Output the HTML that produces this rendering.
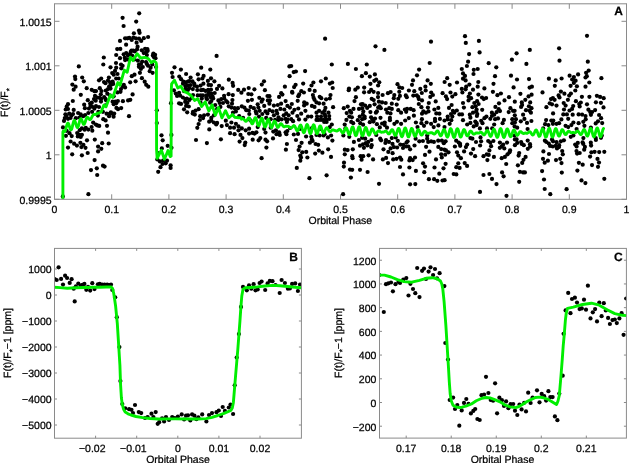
<!DOCTYPE html>
<html><head><meta charset="utf-8"><title>Phase curve</title>
<style>html,body{margin:0;padding:0;background:#fff;width:630px;height:463px;overflow:hidden}svg{display:block;will-change:transform}text{stroke:#000;stroke-width:0.25px;paint-order:stroke}text{font-family:"Liberation Sans",sans-serif;text-rendering:geometricPrecision}</style>
</head><body>
<svg width="630" height="463" viewBox="0 0 630 463" font-family="Liberation Sans, sans-serif" fill="#000"><defs><clipPath id="ca"><rect x="54.5" y="3.8" width="572.0" height="195.5"/></clipPath><clipPath id="cb"><rect x="54.5" y="248.4" width="246.89999999999998" height="189.79999999999998"/></clipPath><clipPath id="cc"><rect x="379.5" y="248.4" width="246.89999999999998" height="189.70000000000002"/></clipPath></defs>
<g clip-path="url(#ca)">
<circle cx="122.6" cy="17.8" r="2.1"/>
<circle cx="123.6" cy="26.0" r="2.1"/>
<circle cx="133.9" cy="33.3" r="2.1"/>
<circle cx="125.1" cy="38.3" r="2.1"/>
<circle cx="127.4" cy="38.3" r="2.1"/>
<circle cx="131.7" cy="40.0" r="2.1"/>
<circle cx="120.0" cy="40.9" r="2.1"/>
<circle cx="126.1" cy="44.7" r="2.1"/>
<circle cx="117.2" cy="49.1" r="2.1"/>
<circle cx="120.3" cy="48.9" r="2.1"/>
<circle cx="131.5" cy="50.6" r="2.1"/>
<circle cx="78.8" cy="66.4" r="2.1"/>
<circle cx="75.0" cy="76.6" r="2.1"/>
<circle cx="75.3" cy="79.1" r="2.1"/>
<circle cx="82.2" cy="77.5" r="2.1"/>
<circle cx="83.8" cy="81.3" r="2.1"/>
<circle cx="72.4" cy="84.6" r="2.1"/>
<circle cx="75.6" cy="86.7" r="2.1"/>
<circle cx="73.7" cy="89.7" r="2.1"/>
<circle cx="80.8" cy="94.8" r="2.1"/>
<circle cx="86.7" cy="88.2" r="2.1"/>
<circle cx="91.7" cy="89.8" r="2.1"/>
<circle cx="94.4" cy="91.2" r="2.1"/>
<circle cx="96.0" cy="91.1" r="2.1"/>
<circle cx="95.0" cy="95.9" r="2.1"/>
<circle cx="99.0" cy="80.3" r="2.1"/>
<circle cx="101.2" cy="78.5" r="2.1"/>
<circle cx="104.0" cy="82.0" r="2.1"/>
<circle cx="103.8" cy="57.5" r="2.1"/>
<circle cx="103.3" cy="64.5" r="2.1"/>
<circle cx="99.8" cy="88.2" r="2.1"/>
<circle cx="101.5" cy="91.1" r="2.1"/>
<circle cx="105.8" cy="90.5" r="2.1"/>
<circle cx="108.9" cy="77.5" r="2.1"/>
<circle cx="110.2" cy="82.4" r="2.1"/>
<circle cx="112.7" cy="81.7" r="2.1"/>
<circle cx="109.2" cy="86.3" r="2.1"/>
<circle cx="110.5" cy="88.6" r="2.1"/>
<circle cx="110.5" cy="67.3" r="2.1"/>
<circle cx="112.2" cy="73.1" r="2.1"/>
<circle cx="115.0" cy="70.9" r="2.1"/>
<circle cx="116.2" cy="67.7" r="2.1"/>
<circle cx="116.0" cy="63.0" r="2.1"/>
<circle cx="117.5" cy="74.0" r="2.1"/>
<circle cx="118.8" cy="78.5" r="2.1"/>
<circle cx="121.0" cy="64.5" r="2.1"/>
<circle cx="122.6" cy="65.8" r="2.1"/>
<circle cx="120.0" cy="58.2" r="2.1"/>
<circle cx="116.2" cy="55.0" r="2.1"/>
<circle cx="123.7" cy="54.3" r="2.1"/>
<circle cx="126.2" cy="53.0" r="2.1"/>
<circle cx="130.8" cy="51.8" r="2.1"/>
<circle cx="132.1" cy="55.5" r="2.1"/>
<circle cx="125.1" cy="60.1" r="2.1"/>
<circle cx="127.7" cy="59.4" r="2.1"/>
<circle cx="121.3" cy="68.3" r="2.1"/>
<circle cx="123.8" cy="84.8" r="2.1"/>
<circle cx="125.1" cy="87.4" r="2.1"/>
<circle cx="130.2" cy="82.3" r="2.1"/>
<circle cx="131.8" cy="76.2" r="2.1"/>
<circle cx="132.6" cy="94.4" r="2.1"/>
<circle cx="113.7" cy="96.3" r="2.1"/>
<circle cx="117.5" cy="92.4" r="2.1"/>
<circle cx="120.5" cy="91.8" r="2.1"/>
<circle cx="100.8" cy="94.3" r="2.1"/>
<circle cx="104.2" cy="97.0" r="2.1"/>
<circle cx="113.7" cy="74.7" r="2.1"/>
<circle cx="116.2" cy="78.5" r="2.1"/>
<circle cx="111.1" cy="84.8" r="2.1"/>
<circle cx="107.3" cy="93.7" r="2.1"/>
<circle cx="72.8" cy="101.0" r="2.1"/>
<circle cx="68.0" cy="104.2" r="2.1"/>
<circle cx="66.7" cy="106.7" r="2.1"/>
<circle cx="65.7" cy="109.5" r="2.1"/>
<circle cx="68.0" cy="109.0" r="2.1"/>
<circle cx="73.7" cy="109.9" r="2.1"/>
<circle cx="65.4" cy="114.3" r="2.1"/>
<circle cx="69.2" cy="113.7" r="2.1"/>
<circle cx="71.5" cy="115.6" r="2.1"/>
<circle cx="64.8" cy="118.1" r="2.1"/>
<circle cx="64.0" cy="120.9" r="2.1"/>
<circle cx="68.0" cy="118.8" r="2.1"/>
<circle cx="78.1" cy="113.0" r="2.1"/>
<circle cx="80.7" cy="114.3" r="2.1"/>
<circle cx="83.2" cy="116.2" r="2.1"/>
<circle cx="85.1" cy="115.0" r="2.1"/>
<circle cx="79.4" cy="117.5" r="2.1"/>
<circle cx="75.8" cy="118.2" r="2.1"/>
<circle cx="88.3" cy="113.0" r="2.1"/>
<circle cx="84.2" cy="104.7" r="2.1"/>
<circle cx="84.9" cy="108.2" r="2.1"/>
<circle cx="87.8" cy="100.2" r="2.1"/>
<circle cx="90.2" cy="103.5" r="2.1"/>
<circle cx="92.1" cy="106.7" r="2.1"/>
<circle cx="88.9" cy="108.6" r="2.1"/>
<circle cx="94.0" cy="99.1" r="2.1"/>
<circle cx="94.4" cy="108.6" r="2.1"/>
<circle cx="96.0" cy="106.2" r="2.1"/>
<circle cx="98.4" cy="111.8" r="2.1"/>
<circle cx="92.1" cy="111.8" r="2.1"/>
<circle cx="99.7" cy="97.8" r="2.1"/>
<circle cx="101.0" cy="101.6" r="2.1"/>
<circle cx="106.1" cy="100.3" r="2.1"/>
<circle cx="105.4" cy="105.4" r="2.1"/>
<circle cx="99.0" cy="107.0" r="2.1"/>
<circle cx="63.0" cy="127.4" r="2.1"/>
<circle cx="66.7" cy="130.8" r="2.1"/>
<circle cx="69.5" cy="133.2" r="2.1"/>
<circle cx="71.7" cy="136.1" r="2.1"/>
<circle cx="65.9" cy="135.8" r="2.1"/>
<circle cx="70.6" cy="141.5" r="2.1"/>
<circle cx="77.2" cy="133.1" r="2.1"/>
<circle cx="77.8" cy="136.4" r="2.1"/>
<circle cx="81.9" cy="134.8" r="2.1"/>
<circle cx="79.7" cy="130.2" r="2.1"/>
<circle cx="81.9" cy="128.3" r="2.1"/>
<circle cx="85.8" cy="127.8" r="2.1"/>
<circle cx="88.3" cy="129.6" r="2.1"/>
<circle cx="91.6" cy="127.0" r="2.1"/>
<circle cx="92.3" cy="130.7" r="2.1"/>
<circle cx="93.2" cy="122.6" r="2.1"/>
<circle cx="97.3" cy="125.4" r="2.1"/>
<circle cx="95.9" cy="124.5" r="2.1"/>
<circle cx="94.8" cy="139.6" r="2.1"/>
<circle cx="87.0" cy="140.3" r="2.1"/>
<circle cx="80.4" cy="142.8" r="2.1"/>
<circle cx="74.1" cy="143.7" r="2.1"/>
<circle cx="103.3" cy="119.2" r="2.1"/>
<circle cx="105.6" cy="120.4" r="2.1"/>
<circle cx="102.9" cy="111.8" r="2.1"/>
<circle cx="106.6" cy="113.7" r="2.1"/>
<circle cx="109.9" cy="113.7" r="2.1"/>
<circle cx="112.4" cy="113.7" r="2.1"/>
<circle cx="113.6" cy="116.7" r="2.1"/>
<circle cx="109.1" cy="116.2" r="2.1"/>
<circle cx="107.0" cy="125.8" r="2.1"/>
<circle cx="108.0" cy="132.7" r="2.1"/>
<circle cx="102.2" cy="143.2" r="2.1"/>
<circle cx="108.7" cy="143.5" r="2.1"/>
<circle cx="112.6" cy="101.7" r="2.1"/>
<circle cx="115.4" cy="101.5" r="2.1"/>
<circle cx="116.2" cy="103.3" r="2.1"/>
<circle cx="113.7" cy="104.2" r="2.1"/>
<circle cx="118.0" cy="109.2" r="2.1"/>
<circle cx="121.2" cy="108.1" r="2.1"/>
<circle cx="122.9" cy="101.2" r="2.1"/>
<circle cx="128.1" cy="100.4" r="2.1"/>
<circle cx="130.3" cy="99.8" r="2.1"/>
<circle cx="129.0" cy="116.2" r="2.1"/>
<circle cx="109.9" cy="95.3" r="2.1"/>
<circle cx="76.9" cy="145.6" r="2.1"/>
<circle cx="83.4" cy="144.8" r="2.1"/>
<circle cx="81.4" cy="147.1" r="2.1"/>
<circle cx="85.5" cy="147.8" r="2.1"/>
<circle cx="68.0" cy="147.6" r="2.1"/>
<circle cx="72.2" cy="154.3" r="2.1"/>
<circle cx="81.9" cy="155.3" r="2.1"/>
<circle cx="87.7" cy="153.0" r="2.1"/>
<circle cx="98.1" cy="146.6" r="2.1"/>
<circle cx="101.3" cy="148.8" r="2.1"/>
<circle cx="98.1" cy="151.4" r="2.1"/>
<circle cx="94.6" cy="160.1" r="2.1"/>
<circle cx="103.0" cy="165.7" r="2.1"/>
<circle cx="104.6" cy="166.6" r="2.1"/>
<circle cx="96.8" cy="168.3" r="2.1"/>
<circle cx="91.0" cy="170.1" r="2.1"/>
<circle cx="97.2" cy="175.0" r="2.1"/>
<circle cx="88.4" cy="194.2" r="2.1"/>
<circle cx="62.8" cy="196.4" r="2.1"/>
<circle cx="139.2" cy="13.3" r="2.1"/>
<circle cx="136.2" cy="21.6" r="2.1"/>
<circle cx="139.0" cy="30.5" r="2.1"/>
<circle cx="139.6" cy="32.8" r="2.1"/>
<circle cx="133.3" cy="37.5" r="2.1"/>
<circle cx="135.8" cy="38.3" r="2.1"/>
<circle cx="139.0" cy="38.7" r="2.1"/>
<circle cx="143.8" cy="38.2" r="2.1"/>
<circle cx="148.1" cy="37.0" r="2.1"/>
<circle cx="141.2" cy="40.9" r="2.1"/>
<circle cx="136.6" cy="42.7" r="2.1"/>
<circle cx="137.6" cy="46.7" r="2.1"/>
<circle cx="145.1" cy="48.8" r="2.1"/>
<circle cx="147.4" cy="49.1" r="2.1"/>
<circle cx="133.3" cy="50.5" r="2.1"/>
<circle cx="137.1" cy="49.3" r="2.1"/>
<circle cx="141.8" cy="50.3" r="2.1"/>
<circle cx="147.7" cy="50.8" r="2.1"/>
<circle cx="143.8" cy="53.1" r="2.1"/>
<circle cx="153.4" cy="53.5" r="2.1"/>
<circle cx="155.1" cy="54.8" r="2.1"/>
<circle cx="153.8" cy="57.1" r="2.1"/>
<circle cx="155.5" cy="58.2" r="2.1"/>
<circle cx="134.5" cy="59.4" r="2.1"/>
<circle cx="137.9" cy="60.7" r="2.1"/>
<circle cx="142.2" cy="61.6" r="2.1"/>
<circle cx="146.0" cy="62.0" r="2.1"/>
<circle cx="148.0" cy="65.7" r="2.1"/>
<circle cx="138.9" cy="66.8" r="2.1"/>
<circle cx="142.8" cy="67.0" r="2.1"/>
<circle cx="150.6" cy="67.7" r="2.1"/>
<circle cx="152.3" cy="64.5" r="2.1"/>
<circle cx="156.1" cy="67.0" r="2.1"/>
<circle cx="140.9" cy="69.0" r="2.1"/>
<circle cx="149.7" cy="71.2" r="2.1"/>
<circle cx="152.6" cy="72.8" r="2.1"/>
<circle cx="139.9" cy="72.8" r="2.1"/>
<circle cx="134.5" cy="74.7" r="2.1"/>
<circle cx="141.9" cy="78.2" r="2.1"/>
<circle cx="135.6" cy="81.3" r="2.1"/>
<circle cx="144.7" cy="81.7" r="2.1"/>
<circle cx="146.2" cy="84.8" r="2.1"/>
<circle cx="148.3" cy="86.7" r="2.1"/>
<circle cx="174.5" cy="67.3" r="2.1"/>
<circle cx="180.9" cy="69.6" r="2.1"/>
<circle cx="172.0" cy="72.8" r="2.1"/>
<circle cx="186.1" cy="74.0" r="2.1"/>
<circle cx="201.2" cy="67.7" r="2.1"/>
<circle cx="210.3" cy="69.6" r="2.1"/>
<circle cx="197.9" cy="74.3" r="2.1"/>
<circle cx="203.6" cy="75.9" r="2.1"/>
<circle cx="211.0" cy="78.3" r="2.1"/>
<circle cx="172.6" cy="77.0" r="2.1"/>
<circle cx="179.3" cy="76.6" r="2.1"/>
<circle cx="181.1" cy="79.2" r="2.1"/>
<circle cx="190.6" cy="77.5" r="2.1"/>
<circle cx="183.4" cy="81.7" r="2.1"/>
<circle cx="187.9" cy="81.7" r="2.1"/>
<circle cx="192.5" cy="81.4" r="2.1"/>
<circle cx="198.6" cy="79.3" r="2.1"/>
<circle cx="202.4" cy="78.5" r="2.1"/>
<circle cx="207.9" cy="80.9" r="2.1"/>
<circle cx="194.2" cy="83.6" r="2.1"/>
<circle cx="197.0" cy="86.5" r="2.1"/>
<circle cx="200.6" cy="85.6" r="2.1"/>
<circle cx="203.4" cy="83.7" r="2.1"/>
<circle cx="208.6" cy="84.9" r="2.1"/>
<circle cx="185.3" cy="86.1" r="2.1"/>
<circle cx="189.2" cy="88.2" r="2.1"/>
<circle cx="192.8" cy="89.1" r="2.1"/>
<circle cx="184.1" cy="91.2" r="2.1"/>
<circle cx="187.9" cy="89.9" r="2.1"/>
<circle cx="197.3" cy="90.1" r="2.1"/>
<circle cx="203.1" cy="89.9" r="2.1"/>
<circle cx="208.2" cy="89.9" r="2.1"/>
<circle cx="173.9" cy="90.3" r="2.1"/>
<circle cx="175.8" cy="93.6" r="2.1"/>
<circle cx="180.1" cy="95.6" r="2.1"/>
<circle cx="193.0" cy="95.0" r="2.1"/>
<circle cx="197.7" cy="95.4" r="2.1"/>
<circle cx="202.9" cy="95.4" r="2.1"/>
<circle cx="208.2" cy="95.0" r="2.1"/>
<circle cx="211.3" cy="93.5" r="2.1"/>
<circle cx="156.8" cy="110.3" r="2.1"/>
<circle cx="156.8" cy="123.0" r="2.1"/>
<circle cx="171.0" cy="103.2" r="2.1"/>
<circle cx="171.4" cy="134.9" r="2.1"/>
<circle cx="161.5" cy="135.3" r="2.1"/>
<circle cx="162.7" cy="140.3" r="2.1"/>
<circle cx="177.1" cy="96.0" r="2.1"/>
<circle cx="179.1" cy="103.3" r="2.1"/>
<circle cx="182.9" cy="97.5" r="2.1"/>
<circle cx="185.3" cy="99.1" r="2.1"/>
<circle cx="187.4" cy="102.8" r="2.1"/>
<circle cx="186.1" cy="105.9" r="2.1"/>
<circle cx="184.0" cy="109.3" r="2.1"/>
<circle cx="187.2" cy="112.3" r="2.1"/>
<circle cx="191.7" cy="97.8" r="2.1"/>
<circle cx="206.3" cy="97.8" r="2.1"/>
<circle cx="210.7" cy="97.2" r="2.1"/>
<circle cx="210.1" cy="102.7" r="2.1"/>
<circle cx="193.0" cy="111.8" r="2.1"/>
<circle cx="195.6" cy="110.6" r="2.1"/>
<circle cx="198.6" cy="109.2" r="2.1"/>
<circle cx="194.8" cy="114.6" r="2.1"/>
<circle cx="200.2" cy="116.2" r="2.1"/>
<circle cx="204.1" cy="115.3" r="2.1"/>
<circle cx="207.9" cy="114.6" r="2.1"/>
<circle cx="203.1" cy="118.1" r="2.1"/>
<circle cx="199.9" cy="120.0" r="2.1"/>
<circle cx="209.2" cy="121.7" r="2.1"/>
<circle cx="198.6" cy="124.1" r="2.1"/>
<circle cx="197.3" cy="127.8" r="2.1"/>
<circle cx="209.3" cy="129.4" r="2.1"/>
<circle cx="196.0" cy="140.0" r="2.1"/>
<circle cx="206.9" cy="143.1" r="2.1"/>
<circle cx="161.8" cy="148.4" r="2.1"/>
<circle cx="167.7" cy="145.8" r="2.1"/>
<circle cx="171.5" cy="147.8" r="2.1"/>
<circle cx="157.9" cy="153.0" r="2.1"/>
<circle cx="157.3" cy="159.4" r="2.1"/>
<circle cx="159.9" cy="161.4" r="2.1"/>
<circle cx="163.1" cy="160.7" r="2.1"/>
<circle cx="165.7" cy="163.3" r="2.1"/>
<circle cx="167.0" cy="160.7" r="2.1"/>
<circle cx="160.5" cy="167.2" r="2.1"/>
<circle cx="170.6" cy="165.3" r="2.1"/>
<circle cx="170.6" cy="167.9" r="2.1"/>
<circle cx="158.2" cy="171.8" r="2.1"/>
<circle cx="162.5" cy="164.0" r="2.1"/>
<circle cx="216.6" cy="55.9" r="2.1"/>
<circle cx="214.4" cy="81.3" r="2.1"/>
<circle cx="211.0" cy="85.1" r="2.1"/>
<circle cx="219.1" cy="85.8" r="2.1"/>
<circle cx="217.0" cy="88.9" r="2.1"/>
<circle cx="222.4" cy="88.4" r="2.1"/>
<circle cx="211.0" cy="89.7" r="2.1"/>
<circle cx="214.7" cy="93.0" r="2.1"/>
<circle cx="212.5" cy="96.3" r="2.1"/>
<circle cx="228.8" cy="79.7" r="2.1"/>
<circle cx="232.6" cy="82.9" r="2.1"/>
<circle cx="233.1" cy="85.8" r="2.1"/>
<circle cx="238.2" cy="89.9" r="2.1"/>
<circle cx="244.0" cy="89.7" r="2.1"/>
<circle cx="241.4" cy="92.7" r="2.1"/>
<circle cx="248.7" cy="88.0" r="2.1"/>
<circle cx="254.4" cy="89.3" r="2.1"/>
<circle cx="248.3" cy="94.0" r="2.1"/>
<circle cx="251.4" cy="94.3" r="2.1"/>
<circle cx="228.6" cy="94.2" r="2.1"/>
<circle cx="232.8" cy="95.1" r="2.1"/>
<circle cx="224.1" cy="95.8" r="2.1"/>
<circle cx="264.0" cy="81.3" r="2.1"/>
<circle cx="261.8" cy="84.6" r="2.1"/>
<circle cx="264.9" cy="90.2" r="2.1"/>
<circle cx="259.3" cy="97.8" r="2.1"/>
<circle cx="267.5" cy="96.0" r="2.1"/>
<circle cx="284.9" cy="86.7" r="2.1"/>
<circle cx="281.2" cy="93.2" r="2.1"/>
<circle cx="279.1" cy="96.9" r="2.1"/>
<circle cx="289.6" cy="76.2" r="2.1"/>
<circle cx="289.4" cy="66.4" r="2.1"/>
<circle cx="239.6" cy="141.6" r="2.1"/>
<circle cx="245.3" cy="142.6" r="2.1"/>
<circle cx="244.7" cy="145.1" r="2.1"/>
<circle cx="252.7" cy="139.7" r="2.1"/>
<circle cx="258.6" cy="140.3" r="2.1"/>
<circle cx="267.1" cy="141.3" r="2.1"/>
<circle cx="266.4" cy="147.6" r="2.1"/>
<circle cx="261.6" cy="158.2" r="2.1"/>
<circle cx="286.9" cy="144.0" r="2.1"/>
<circle cx="285.9" cy="149.7" r="2.1"/>
<circle cx="220.9" cy="139.3" r="2.1"/>
<circle cx="325.1" cy="38.7" r="2.1"/>
<circle cx="291.2" cy="66.0" r="2.1"/>
<circle cx="293.7" cy="72.1" r="2.1"/>
<circle cx="295.9" cy="71.5" r="2.1"/>
<circle cx="305.1" cy="71.1" r="2.1"/>
<circle cx="295.6" cy="84.8" r="2.1"/>
<circle cx="294.1" cy="87.1" r="2.1"/>
<circle cx="292.1" cy="91.9" r="2.1"/>
<circle cx="292.4" cy="92.7" r="2.1"/>
<circle cx="303.2" cy="83.6" r="2.1"/>
<circle cx="301.3" cy="91.2" r="2.1"/>
<circle cx="303.9" cy="92.5" r="2.1"/>
<circle cx="299.2" cy="94.4" r="2.1"/>
<circle cx="313.4" cy="82.5" r="2.1"/>
<circle cx="311.5" cy="85.5" r="2.1"/>
<circle cx="309.6" cy="89.9" r="2.1"/>
<circle cx="314.7" cy="90.9" r="2.1"/>
<circle cx="312.9" cy="95.1" r="2.1"/>
<circle cx="321.0" cy="81.3" r="2.1"/>
<circle cx="325.8" cy="78.5" r="2.1"/>
<circle cx="329.9" cy="83.6" r="2.1"/>
<circle cx="332.2" cy="82.5" r="2.1"/>
<circle cx="332.7" cy="88.0" r="2.1"/>
<circle cx="330.5" cy="95.1" r="2.1"/>
<circle cx="319.7" cy="96.8" r="2.1"/>
<circle cx="331.8" cy="64.5" r="2.1"/>
<circle cx="347.9" cy="63.9" r="2.1"/>
<circle cx="355.9" cy="69.0" r="2.1"/>
<circle cx="366.8" cy="64.5" r="2.1"/>
<circle cx="365.9" cy="73.2" r="2.1"/>
<circle cx="361.9" cy="76.2" r="2.1"/>
<circle cx="349.0" cy="88.6" r="2.1"/>
<circle cx="348.7" cy="90.2" r="2.1"/>
<circle cx="355.3" cy="89.7" r="2.1"/>
<circle cx="357.8" cy="87.6" r="2.1"/>
<circle cx="364.2" cy="87.6" r="2.1"/>
<circle cx="364.1" cy="92.3" r="2.1"/>
<circle cx="355.9" cy="97.2" r="2.1"/>
<circle cx="296.0" cy="140.0" r="2.1"/>
<circle cx="301.6" cy="142.8" r="2.1"/>
<circle cx="309.9" cy="142.7" r="2.1"/>
<circle cx="312.6" cy="141.0" r="2.1"/>
<circle cx="315.6" cy="144.0" r="2.1"/>
<circle cx="318.2" cy="144.8" r="2.1"/>
<circle cx="332.4" cy="140.6" r="2.1"/>
<circle cx="299.6" cy="146.5" r="2.1"/>
<circle cx="298.6" cy="150.1" r="2.1"/>
<circle cx="302.3" cy="152.3" r="2.1"/>
<circle cx="306.2" cy="151.9" r="2.1"/>
<circle cx="300.3" cy="155.6" r="2.1"/>
<circle cx="301.0" cy="157.5" r="2.1"/>
<circle cx="300.3" cy="160.7" r="2.1"/>
<circle cx="307.4" cy="157.5" r="2.1"/>
<circle cx="315.2" cy="153.6" r="2.1"/>
<circle cx="318.9" cy="150.6" r="2.1"/>
<circle cx="322.4" cy="152.7" r="2.1"/>
<circle cx="328.2" cy="149.3" r="2.1"/>
<circle cx="331.0" cy="156.9" r="2.1"/>
<circle cx="296.8" cy="167.9" r="2.1"/>
<circle cx="309.4" cy="178.2" r="2.1"/>
<circle cx="326.6" cy="175.3" r="2.1"/>
<circle cx="344.8" cy="149.7" r="2.1"/>
<circle cx="347.6" cy="150.1" r="2.1"/>
<circle cx="352.8" cy="149.3" r="2.1"/>
<circle cx="344.8" cy="154.3" r="2.1"/>
<circle cx="352.2" cy="156.2" r="2.1"/>
<circle cx="352.6" cy="158.2" r="2.1"/>
<circle cx="344.0" cy="162.7" r="2.1"/>
<circle cx="343.8" cy="166.6" r="2.1"/>
<circle cx="350.0" cy="169.6" r="2.1"/>
<circle cx="352.2" cy="169.8" r="2.1"/>
<circle cx="360.0" cy="169.8" r="2.1"/>
<circle cx="367.6" cy="172.0" r="2.1"/>
<circle cx="350.9" cy="177.6" r="2.1"/>
<circle cx="353.9" cy="141.9" r="2.1"/>
<circle cx="358.9" cy="140.0" r="2.1"/>
<circle cx="360.0" cy="145.7" r="2.1"/>
<circle cx="363.0" cy="144.3" r="2.1"/>
<circle cx="365.8" cy="143.2" r="2.1"/>
<circle cx="363.9" cy="147.8" r="2.1"/>
<circle cx="367.3" cy="145.4" r="2.1"/>
<circle cx="360.6" cy="156.2" r="2.1"/>
<circle cx="363.2" cy="156.2" r="2.1"/>
<circle cx="361.6" cy="159.7" r="2.1"/>
<circle cx="343.1" cy="194.2" r="2.1"/>
<circle cx="375.5" cy="46.3" r="2.1"/>
<circle cx="384.4" cy="49.9" r="2.1"/>
<circle cx="431.0" cy="41.7" r="2.1"/>
<circle cx="369.8" cy="76.6" r="2.1"/>
<circle cx="374.9" cy="74.4" r="2.1"/>
<circle cx="374.3" cy="80.8" r="2.1"/>
<circle cx="376.2" cy="79.7" r="2.1"/>
<circle cx="379.3" cy="82.3" r="2.1"/>
<circle cx="378.1" cy="85.5" r="2.1"/>
<circle cx="370.4" cy="83.8" r="2.1"/>
<circle cx="371.1" cy="89.9" r="2.1"/>
<circle cx="373.6" cy="91.8" r="2.1"/>
<circle cx="369.1" cy="92.0" r="2.1"/>
<circle cx="378.1" cy="93.0" r="2.1"/>
<circle cx="378.0" cy="97.1" r="2.1"/>
<circle cx="382.6" cy="95.0" r="2.1"/>
<circle cx="387.9" cy="93.2" r="2.1"/>
<circle cx="390.6" cy="92.0" r="2.1"/>
<circle cx="394.3" cy="95.1" r="2.1"/>
<circle cx="397.5" cy="84.2" r="2.1"/>
<circle cx="399.3" cy="87.4" r="2.1"/>
<circle cx="402.2" cy="88.0" r="2.1"/>
<circle cx="399.3" cy="91.8" r="2.1"/>
<circle cx="399.9" cy="95.9" r="2.1"/>
<circle cx="405.8" cy="95.4" r="2.1"/>
<circle cx="408.9" cy="90.5" r="2.1"/>
<circle cx="412.0" cy="84.8" r="2.1"/>
<circle cx="413.0" cy="80.4" r="2.1"/>
<circle cx="417.0" cy="75.3" r="2.1"/>
<circle cx="419.1" cy="69.6" r="2.1"/>
<circle cx="429.7" cy="63.0" r="2.1"/>
<circle cx="414.3" cy="91.2" r="2.1"/>
<circle cx="413.3" cy="95.6" r="2.1"/>
<circle cx="416.8" cy="95.4" r="2.1"/>
<circle cx="420.3" cy="88.9" r="2.1"/>
<circle cx="421.8" cy="93.0" r="2.1"/>
<circle cx="425.4" cy="86.7" r="2.1"/>
<circle cx="425.7" cy="90.5" r="2.1"/>
<circle cx="427.6" cy="80.4" r="2.1"/>
<circle cx="430.8" cy="83.8" r="2.1"/>
<circle cx="431.2" cy="92.5" r="2.1"/>
<circle cx="432.9" cy="95.0" r="2.1"/>
<circle cx="430.3" cy="96.9" r="2.1"/>
<circle cx="442.6" cy="93.2" r="2.1"/>
<circle cx="444.6" cy="82.0" r="2.1"/>
<circle cx="368.2" cy="141.9" r="2.1"/>
<circle cx="371.4" cy="140.0" r="2.1"/>
<circle cx="371.2" cy="147.1" r="2.1"/>
<circle cx="381.1" cy="140.3" r="2.1"/>
<circle cx="385.4" cy="142.9" r="2.1"/>
<circle cx="389.0" cy="141.9" r="2.1"/>
<circle cx="392.5" cy="143.9" r="2.1"/>
<circle cx="390.6" cy="148.4" r="2.1"/>
<circle cx="393.9" cy="147.1" r="2.1"/>
<circle cx="397.1" cy="147.5" r="2.1"/>
<circle cx="383.5" cy="149.3" r="2.1"/>
<circle cx="388.3" cy="151.9" r="2.1"/>
<circle cx="392.6" cy="153.2" r="2.1"/>
<circle cx="397.8" cy="140.8" r="2.1"/>
<circle cx="403.4" cy="144.9" r="2.1"/>
<circle cx="403.0" cy="148.0" r="2.1"/>
<circle cx="406.2" cy="146.5" r="2.1"/>
<circle cx="410.1" cy="149.3" r="2.1"/>
<circle cx="407.6" cy="141.3" r="2.1"/>
<circle cx="414.5" cy="145.5" r="2.1"/>
<circle cx="419.3" cy="141.3" r="2.1"/>
<circle cx="422.9" cy="141.0" r="2.1"/>
<circle cx="428.2" cy="141.9" r="2.1"/>
<circle cx="433.9" cy="141.9" r="2.1"/>
<circle cx="438.2" cy="140.7" r="2.1"/>
<circle cx="443.8" cy="143.2" r="2.1"/>
<circle cx="426.1" cy="146.8" r="2.1"/>
<circle cx="438.3" cy="146.9" r="2.1"/>
<circle cx="441.2" cy="149.1" r="2.1"/>
<circle cx="444.4" cy="149.7" r="2.1"/>
<circle cx="429.5" cy="151.7" r="2.1"/>
<circle cx="425.0" cy="154.9" r="2.1"/>
<circle cx="368.6" cy="155.3" r="2.1"/>
<circle cx="373.1" cy="159.4" r="2.1"/>
<circle cx="382.9" cy="159.4" r="2.1"/>
<circle cx="386.1" cy="157.9" r="2.1"/>
<circle cx="388.0" cy="163.1" r="2.1"/>
<circle cx="393.2" cy="159.4" r="2.1"/>
<circle cx="396.5" cy="158.8" r="2.1"/>
<circle cx="400.0" cy="157.5" r="2.1"/>
<circle cx="401.3" cy="159.7" r="2.1"/>
<circle cx="410.1" cy="158.2" r="2.1"/>
<circle cx="409.4" cy="160.5" r="2.1"/>
<circle cx="412.7" cy="160.1" r="2.1"/>
<circle cx="415.0" cy="157.5" r="2.1"/>
<circle cx="441.2" cy="154.3" r="2.1"/>
<circle cx="441.8" cy="157.5" r="2.1"/>
<circle cx="436.0" cy="159.4" r="2.1"/>
<circle cx="445.2" cy="154.7" r="2.1"/>
<circle cx="423.1" cy="163.3" r="2.1"/>
<circle cx="425.0" cy="166.6" r="2.1"/>
<circle cx="400.0" cy="167.0" r="2.1"/>
<circle cx="409.4" cy="167.5" r="2.1"/>
<circle cx="415.9" cy="170.9" r="2.1"/>
<circle cx="424.3" cy="172.2" r="2.1"/>
<circle cx="434.5" cy="167.5" r="2.1"/>
<circle cx="443.5" cy="168.3" r="2.1"/>
<circle cx="445.6" cy="163.8" r="2.1"/>
<circle cx="439.3" cy="173.7" r="2.1"/>
<circle cx="403.0" cy="174.4" r="2.1"/>
<circle cx="428.9" cy="179.2" r="2.1"/>
<circle cx="434.1" cy="179.2" r="2.1"/>
<circle cx="437.3" cy="180.8" r="2.1"/>
<circle cx="442.5" cy="180.5" r="2.1"/>
<circle cx="379.0" cy="183.8" r="2.1"/>
<circle cx="410.1" cy="184.3" r="2.1"/>
<circle cx="415.3" cy="184.1" r="2.1"/>
<circle cx="465.0" cy="36.2" r="2.1"/>
<circle cx="465.8" cy="42.9" r="2.1"/>
<circle cx="478.9" cy="40.9" r="2.1"/>
<circle cx="469.1" cy="54.1" r="2.1"/>
<circle cx="479.6" cy="52.4" r="2.1"/>
<circle cx="516.6" cy="53.3" r="2.1"/>
<circle cx="511.9" cy="59.7" r="2.1"/>
<circle cx="468.1" cy="61.7" r="2.1"/>
<circle cx="466.9" cy="66.0" r="2.1"/>
<circle cx="461.8" cy="69.0" r="2.1"/>
<circle cx="473.8" cy="69.8" r="2.1"/>
<circle cx="477.7" cy="69.0" r="2.1"/>
<circle cx="473.5" cy="74.0" r="2.1"/>
<circle cx="488.7" cy="63.2" r="2.1"/>
<circle cx="496.3" cy="67.3" r="2.1"/>
<circle cx="463.0" cy="73.4" r="2.1"/>
<circle cx="465.0" cy="75.9" r="2.1"/>
<circle cx="463.0" cy="78.7" r="2.1"/>
<circle cx="465.6" cy="80.4" r="2.1"/>
<circle cx="447.2" cy="78.2" r="2.1"/>
<circle cx="457.0" cy="82.5" r="2.1"/>
<circle cx="449.7" cy="84.8" r="2.1"/>
<circle cx="478.3" cy="82.0" r="2.1"/>
<circle cx="495.0" cy="76.2" r="2.1"/>
<circle cx="511.0" cy="75.7" r="2.1"/>
<circle cx="517.0" cy="79.5" r="2.1"/>
<circle cx="493.5" cy="83.8" r="2.1"/>
<circle cx="513.6" cy="87.4" r="2.1"/>
<circle cx="469.4" cy="84.6" r="2.1"/>
<circle cx="466.2" cy="86.7" r="2.1"/>
<circle cx="461.8" cy="88.9" r="2.1"/>
<circle cx="465.6" cy="89.3" r="2.1"/>
<circle cx="473.0" cy="89.7" r="2.1"/>
<circle cx="477.7" cy="86.7" r="2.1"/>
<circle cx="484.4" cy="88.4" r="2.1"/>
<circle cx="462.4" cy="92.5" r="2.1"/>
<circle cx="450.5" cy="92.5" r="2.1"/>
<circle cx="455.4" cy="94.2" r="2.1"/>
<circle cx="469.9" cy="93.5" r="2.1"/>
<circle cx="478.4" cy="94.6" r="2.1"/>
<circle cx="492.9" cy="91.8" r="2.1"/>
<circle cx="500.9" cy="93.5" r="2.1"/>
<circle cx="497.4" cy="95.2" r="2.1"/>
<circle cx="520.4" cy="93.8" r="2.1"/>
<circle cx="509.0" cy="97.2" r="2.1"/>
<circle cx="445.9" cy="96.4" r="2.1"/>
<circle cx="452.3" cy="96.6" r="2.1"/>
<circle cx="468.6" cy="96.7" r="2.1"/>
<circle cx="482.0" cy="97.5" r="2.1"/>
<circle cx="486.1" cy="98.0" r="2.1"/>
<circle cx="445.6" cy="141.3" r="2.1"/>
<circle cx="456.2" cy="140.7" r="2.1"/>
<circle cx="460.1" cy="143.9" r="2.1"/>
<circle cx="454.9" cy="146.5" r="2.1"/>
<circle cx="460.2" cy="145.8" r="2.1"/>
<circle cx="467.2" cy="144.6" r="2.1"/>
<circle cx="465.9" cy="147.1" r="2.1"/>
<circle cx="476.0" cy="142.0" r="2.1"/>
<circle cx="481.1" cy="141.3" r="2.1"/>
<circle cx="480.1" cy="145.5" r="2.1"/>
<circle cx="473.2" cy="149.1" r="2.1"/>
<circle cx="488.2" cy="141.0" r="2.1"/>
<circle cx="493.4" cy="141.0" r="2.1"/>
<circle cx="491.1" cy="146.2" r="2.1"/>
<circle cx="489.4" cy="150.4" r="2.1"/>
<circle cx="499.9" cy="142.6" r="2.1"/>
<circle cx="507.0" cy="142.6" r="2.1"/>
<circle cx="501.7" cy="146.5" r="2.1"/>
<circle cx="499.8" cy="147.8" r="2.1"/>
<circle cx="504.3" cy="148.4" r="2.1"/>
<circle cx="510.1" cy="150.4" r="2.1"/>
<circle cx="517.2" cy="142.9" r="2.1"/>
<circle cx="521.8" cy="143.9" r="2.1"/>
<circle cx="446.0" cy="150.4" r="2.1"/>
<circle cx="448.5" cy="152.3" r="2.1"/>
<circle cx="457.0" cy="152.3" r="2.1"/>
<circle cx="458.3" cy="155.6" r="2.1"/>
<circle cx="460.9" cy="158.2" r="2.1"/>
<circle cx="464.1" cy="151.4" r="2.1"/>
<circle cx="471.0" cy="153.6" r="2.1"/>
<circle cx="475.1" cy="156.2" r="2.1"/>
<circle cx="483.5" cy="156.2" r="2.1"/>
<circle cx="486.8" cy="154.3" r="2.1"/>
<circle cx="488.7" cy="154.9" r="2.1"/>
<circle cx="487.4" cy="160.1" r="2.1"/>
<circle cx="493.9" cy="156.9" r="2.1"/>
<circle cx="501.7" cy="158.2" r="2.1"/>
<circle cx="504.9" cy="156.9" r="2.1"/>
<circle cx="507.5" cy="154.3" r="2.1"/>
<circle cx="509.5" cy="152.3" r="2.1"/>
<circle cx="519.2" cy="153.0" r="2.1"/>
<circle cx="518.6" cy="155.6" r="2.1"/>
<circle cx="523.5" cy="159.8" r="2.1"/>
<circle cx="458.3" cy="163.3" r="2.1"/>
<circle cx="456.3" cy="167.2" r="2.1"/>
<circle cx="459.6" cy="167.9" r="2.1"/>
<circle cx="464.7" cy="163.1" r="2.1"/>
<circle cx="467.1" cy="165.9" r="2.1"/>
<circle cx="506.2" cy="164.0" r="2.1"/>
<circle cx="517.9" cy="165.3" r="2.1"/>
<circle cx="522.2" cy="162.9" r="2.1"/>
<circle cx="453.7" cy="174.0" r="2.1"/>
<circle cx="456.3" cy="174.4" r="2.1"/>
<circle cx="483.5" cy="175.0" r="2.1"/>
<circle cx="489.4" cy="174.0" r="2.1"/>
<circle cx="502.1" cy="172.4" r="2.1"/>
<circle cx="503.6" cy="176.3" r="2.1"/>
<circle cx="492.0" cy="178.9" r="2.1"/>
<circle cx="496.5" cy="184.1" r="2.1"/>
<circle cx="519.9" cy="171.8" r="2.1"/>
<circle cx="523.1" cy="172.4" r="2.1"/>
<circle cx="519.2" cy="181.8" r="2.1"/>
<circle cx="480.0" cy="191.9" r="2.1"/>
<circle cx="506.5" cy="195.8" r="2.1"/>
<circle cx="444.6" cy="180.2" r="2.1"/>
<circle cx="587.0" cy="35.8" r="2.1"/>
<circle cx="559.1" cy="48.3" r="2.1"/>
<circle cx="529.8" cy="49.9" r="2.1"/>
<circle cx="526.4" cy="63.9" r="2.1"/>
<circle cx="559.5" cy="60.7" r="2.1"/>
<circle cx="587.8" cy="61.7" r="2.1"/>
<circle cx="588.7" cy="70.6" r="2.1"/>
<circle cx="586.1" cy="72.8" r="2.1"/>
<circle cx="586.8" cy="76.2" r="2.1"/>
<circle cx="585.5" cy="77.5" r="2.1"/>
<circle cx="529.0" cy="79.1" r="2.1"/>
<circle cx="548.9" cy="78.7" r="2.1"/>
<circle cx="555.7" cy="80.4" r="2.1"/>
<circle cx="561.6" cy="78.5" r="2.1"/>
<circle cx="569.6" cy="75.7" r="2.1"/>
<circle cx="573.9" cy="77.1" r="2.1"/>
<circle cx="578.1" cy="74.4" r="2.1"/>
<circle cx="572.2" cy="79.5" r="2.1"/>
<circle cx="575.6" cy="80.7" r="2.1"/>
<circle cx="573.8" cy="82.9" r="2.1"/>
<circle cx="589.3" cy="82.5" r="2.1"/>
<circle cx="601.4" cy="78.2" r="2.1"/>
<circle cx="554.8" cy="85.8" r="2.1"/>
<circle cx="570.6" cy="85.8" r="2.1"/>
<circle cx="576.9" cy="86.3" r="2.1"/>
<circle cx="585.5" cy="86.7" r="2.1"/>
<circle cx="529.6" cy="87.6" r="2.1"/>
<circle cx="531.9" cy="86.7" r="2.1"/>
<circle cx="542.5" cy="92.4" r="2.1"/>
<circle cx="560.9" cy="91.6" r="2.1"/>
<circle cx="564.4" cy="93.7" r="2.1"/>
<circle cx="575.3" cy="90.5" r="2.1"/>
<circle cx="570.9" cy="93.5" r="2.1"/>
<circle cx="531.6" cy="94.7" r="2.1"/>
<circle cx="528.5" cy="96.4" r="2.1"/>
<circle cx="558.6" cy="95.4" r="2.1"/>
<circle cx="569.2" cy="95.6" r="2.1"/>
<circle cx="552.9" cy="98.1" r="2.1"/>
<circle cx="581.9" cy="96.8" r="2.1"/>
<circle cx="589.4" cy="96.8" r="2.1"/>
<circle cx="596.9" cy="95.8" r="2.1"/>
<circle cx="600.1" cy="96.9" r="2.1"/>
<circle cx="527.7" cy="140.6" r="2.1"/>
<circle cx="523.8" cy="145.2" r="2.1"/>
<circle cx="530.0" cy="144.2" r="2.1"/>
<circle cx="527.8" cy="148.8" r="2.1"/>
<circle cx="530.2" cy="146.6" r="2.1"/>
<circle cx="544.9" cy="140.7" r="2.1"/>
<circle cx="548.8" cy="143.6" r="2.1"/>
<circle cx="553.0" cy="141.3" r="2.1"/>
<circle cx="556.5" cy="142.2" r="2.1"/>
<circle cx="560.9" cy="141.3" r="2.1"/>
<circle cx="563.9" cy="140.3" r="2.1"/>
<circle cx="550.1" cy="145.9" r="2.1"/>
<circle cx="555.7" cy="145.8" r="2.1"/>
<circle cx="559.0" cy="147.1" r="2.1"/>
<circle cx="557.0" cy="148.4" r="2.1"/>
<circle cx="543.4" cy="151.4" r="2.1"/>
<circle cx="549.0" cy="154.0" r="2.1"/>
<circle cx="562.2" cy="151.0" r="2.1"/>
<circle cx="562.8" cy="154.3" r="2.1"/>
<circle cx="525.6" cy="156.9" r="2.1"/>
<circle cx="543.0" cy="158.8" r="2.1"/>
<circle cx="544.7" cy="162.7" r="2.1"/>
<circle cx="547.9" cy="160.7" r="2.1"/>
<circle cx="556.0" cy="160.1" r="2.1"/>
<circle cx="560.2" cy="158.8" r="2.1"/>
<circle cx="561.5" cy="163.1" r="2.1"/>
<circle cx="575.2" cy="144.6" r="2.1"/>
<circle cx="577.8" cy="142.9" r="2.1"/>
<circle cx="582.6" cy="142.4" r="2.1"/>
<circle cx="583.3" cy="143.9" r="2.1"/>
<circle cx="584.9" cy="146.9" r="2.1"/>
<circle cx="584.2" cy="149.7" r="2.1"/>
<circle cx="590.8" cy="142.7" r="2.1"/>
<circle cx="591.1" cy="145.6" r="2.1"/>
<circle cx="595.9" cy="140.0" r="2.1"/>
<circle cx="576.5" cy="151.0" r="2.1"/>
<circle cx="577.1" cy="153.6" r="2.1"/>
<circle cx="579.7" cy="153.0" r="2.1"/>
<circle cx="591.4" cy="152.3" r="2.1"/>
<circle cx="594.6" cy="151.8" r="2.1"/>
<circle cx="599.2" cy="152.1" r="2.1"/>
<circle cx="590.1" cy="156.6" r="2.1"/>
<circle cx="597.5" cy="158.9" r="2.1"/>
<circle cx="599.0" cy="162.6" r="2.1"/>
<circle cx="598.0" cy="166.8" r="2.1"/>
<circle cx="578.9" cy="162.8" r="2.1"/>
<circle cx="582.7" cy="164.7" r="2.1"/>
<circle cx="592.0" cy="165.1" r="2.1"/>
<circle cx="524.9" cy="172.4" r="2.1"/>
<circle cx="542.1" cy="171.1" r="2.1"/>
<circle cx="561.8" cy="172.6" r="2.1"/>
<circle cx="577.4" cy="170.6" r="2.1"/>
<circle cx="544.0" cy="179.5" r="2.1"/>
<circle cx="581.5" cy="180.4" r="2.1"/>
<circle cx="585.4" cy="183.1" r="2.1"/>
<circle cx="544.7" cy="189.0" r="2.1"/>
<circle cx="566.6" cy="189.2" r="2.1"/>
<circle cx="550.3" cy="194.2" r="2.1"/>
<circle cx="603.7" cy="98.2" r="2.1"/>
<circle cx="575.9" cy="101.2" r="2.1"/>
<circle cx="580.8" cy="102.5" r="2.1"/>
<circle cx="587.0" cy="104.3" r="2.1"/>
<circle cx="595.9" cy="102.3" r="2.1"/>
<circle cx="600.9" cy="102.8" r="2.1"/>
<circle cx="603.5" cy="107.4" r="2.1"/>
<circle cx="573.2" cy="106.0" r="2.1"/>
<circle cx="579.7" cy="106.5" r="2.1"/>
<circle cx="599.1" cy="115.0" r="2.1"/>
<circle cx="601.1" cy="118.2" r="2.1"/>
<circle cx="598.0" cy="121.3" r="2.1"/>
<circle cx="602.2" cy="123.1" r="2.1"/>
<circle cx="601.0" cy="137.8" r="2.1"/>
<circle cx="604.3" cy="151.8" r="2.1"/>
<circle cx="604.3" cy="178.8" r="2.1"/>
<circle cx="213.2" cy="98.5" r="2.1"/>
<circle cx="211.3" cy="101.1" r="2.1"/>
<circle cx="218.4" cy="100.4" r="2.1"/>
<circle cx="221.3" cy="99.1" r="2.1"/>
<circle cx="224.3" cy="98.5" r="2.1"/>
<circle cx="226.2" cy="101.1" r="2.1"/>
<circle cx="219.7" cy="103.0" r="2.1"/>
<circle cx="223.0" cy="103.0" r="2.1"/>
<circle cx="227.5" cy="102.4" r="2.1"/>
<circle cx="232.4" cy="100.1" r="2.1"/>
<circle cx="232.0" cy="103.7" r="2.1"/>
<circle cx="228.8" cy="106.3" r="2.1"/>
<circle cx="231.4" cy="107.6" r="2.1"/>
<circle cx="234.6" cy="108.2" r="2.1"/>
<circle cx="237.9" cy="108.2" r="2.1"/>
<circle cx="235.9" cy="111.4" r="2.1"/>
<circle cx="233.0" cy="112.7" r="2.1"/>
<circle cx="241.8" cy="106.3" r="2.1"/>
<circle cx="244.4" cy="107.6" r="2.1"/>
<circle cx="247.9" cy="100.8" r="2.1"/>
<circle cx="246.3" cy="110.2" r="2.1"/>
<circle cx="248.8" cy="110.5" r="2.1"/>
<circle cx="215.2" cy="105.0" r="2.1"/>
<circle cx="217.1" cy="108.9" r="2.1"/>
<circle cx="220.4" cy="106.9" r="2.1"/>
<circle cx="211.3" cy="117.9" r="2.1"/>
<circle cx="225.8" cy="120.7" r="2.1"/>
<circle cx="213.9" cy="115.3" r="2.1"/>
<circle cx="239.2" cy="116.0" r="2.1"/>
<circle cx="243.1" cy="117.9" r="2.1"/>
<circle cx="251.9" cy="99.8" r="2.1"/>
<circle cx="262.6" cy="99.5" r="2.1"/>
<circle cx="261.6" cy="101.7" r="2.1"/>
<circle cx="269.4" cy="96.2" r="2.1"/>
<circle cx="267.8" cy="100.4" r="2.1"/>
<circle cx="270.0" cy="100.4" r="2.1"/>
<circle cx="282.4" cy="94.6" r="2.1"/>
<circle cx="285.6" cy="101.1" r="2.1"/>
<circle cx="257.7" cy="104.3" r="2.1"/>
<circle cx="264.2" cy="105.9" r="2.1"/>
<circle cx="269.4" cy="103.7" r="2.1"/>
<circle cx="273.9" cy="105.6" r="2.1"/>
<circle cx="277.8" cy="105.0" r="2.1"/>
<circle cx="281.1" cy="103.7" r="2.1"/>
<circle cx="287.4" cy="105.9" r="2.1"/>
<circle cx="250.6" cy="106.9" r="2.1"/>
<circle cx="253.8" cy="108.2" r="2.1"/>
<circle cx="258.4" cy="107.6" r="2.1"/>
<circle cx="255.8" cy="111.4" r="2.1"/>
<circle cx="259.7" cy="110.8" r="2.1"/>
<circle cx="265.5" cy="111.4" r="2.1"/>
<circle cx="269.4" cy="110.2" r="2.1"/>
<circle cx="272.6" cy="111.4" r="2.1"/>
<circle cx="276.5" cy="110.8" r="2.1"/>
<circle cx="280.4" cy="108.9" r="2.1"/>
<circle cx="284.3" cy="109.5" r="2.1"/>
<circle cx="249.3" cy="114.0" r="2.1"/>
<circle cx="256.4" cy="113.4" r="2.1"/>
<circle cx="262.3" cy="114.0" r="2.1"/>
<circle cx="267.4" cy="113.4" r="2.1"/>
<circle cx="273.9" cy="115.3" r="2.1"/>
<circle cx="277.2" cy="113.4" r="2.1"/>
<circle cx="278.5" cy="117.3" r="2.1"/>
<circle cx="283.7" cy="115.3" r="2.1"/>
<circle cx="286.2" cy="113.4" r="2.1"/>
<circle cx="259.0" cy="116.6" r="2.1"/>
<circle cx="266.2" cy="117.9" r="2.1"/>
<circle cx="270.7" cy="119.2" r="2.1"/>
<circle cx="275.2" cy="119.8" r="2.1"/>
<circle cx="285.6" cy="118.9" r="2.1"/>
<circle cx="250.6" cy="120.5" r="2.1"/>
<circle cx="211.3" cy="120.6" r="2.1"/>
<circle cx="213.9" cy="122.5" r="2.1"/>
<circle cx="217.1" cy="122.9" r="2.1"/>
<circle cx="216.2" cy="124.5" r="2.1"/>
<circle cx="221.7" cy="126.1" r="2.1"/>
<circle cx="226.9" cy="125.1" r="2.1"/>
<circle cx="231.4" cy="122.5" r="2.1"/>
<circle cx="230.1" cy="127.7" r="2.1"/>
<circle cx="234.0" cy="127.7" r="2.1"/>
<circle cx="235.9" cy="123.8" r="2.1"/>
<circle cx="238.5" cy="126.4" r="2.1"/>
<circle cx="238.5" cy="130.3" r="2.1"/>
<circle cx="241.8" cy="128.4" r="2.1"/>
<circle cx="245.7" cy="130.3" r="2.1"/>
<circle cx="249.1" cy="128.7" r="2.1"/>
<circle cx="249.1" cy="133.6" r="2.1"/>
<circle cx="230.1" cy="133.2" r="2.1"/>
<circle cx="234.6" cy="134.2" r="2.1"/>
<circle cx="240.5" cy="134.9" r="2.1"/>
<circle cx="242.4" cy="138.1" r="2.1"/>
<circle cx="252.5" cy="132.9" r="2.1"/>
<circle cx="256.4" cy="132.3" r="2.1"/>
<circle cx="254.5" cy="133.6" r="2.1"/>
<circle cx="265.5" cy="132.6" r="2.1"/>
<circle cx="264.2" cy="129.0" r="2.1"/>
<circle cx="273.3" cy="131.6" r="2.1"/>
<circle cx="275.9" cy="130.3" r="2.1"/>
<circle cx="279.1" cy="132.3" r="2.1"/>
<circle cx="276.5" cy="134.2" r="2.1"/>
<circle cx="279.8" cy="134.9" r="2.1"/>
<circle cx="285.6" cy="132.3" r="2.1"/>
<circle cx="286.4" cy="134.2" r="2.1"/>
<circle cx="260.3" cy="138.1" r="2.1"/>
<circle cx="265.5" cy="139.7" r="2.1"/>
<circle cx="273.0" cy="138.4" r="2.1"/>
<circle cx="249.3" cy="119.3" r="2.1"/>
<circle cx="278.5" cy="120.0" r="2.1"/>
<circle cx="281.7" cy="119.3" r="2.1"/>
<circle cx="286.9" cy="121.9" r="2.1"/>
<circle cx="257.7" cy="127.1" r="2.1"/>
<circle cx="270.7" cy="127.7" r="2.1"/>
<circle cx="298.3" cy="96.2" r="2.1"/>
<circle cx="297.7" cy="100.8" r="2.1"/>
<circle cx="313.6" cy="97.8" r="2.1"/>
<circle cx="314.5" cy="99.8" r="2.1"/>
<circle cx="321.3" cy="98.2" r="2.1"/>
<circle cx="326.1" cy="99.3" r="2.1"/>
<circle cx="304.2" cy="102.4" r="2.1"/>
<circle cx="306.7" cy="103.7" r="2.1"/>
<circle cx="304.1" cy="105.5" r="2.1"/>
<circle cx="316.5" cy="102.4" r="2.1"/>
<circle cx="319.1" cy="103.3" r="2.1"/>
<circle cx="323.6" cy="103.7" r="2.1"/>
<circle cx="311.9" cy="105.9" r="2.1"/>
<circle cx="314.5" cy="106.9" r="2.1"/>
<circle cx="291.8" cy="104.0" r="2.1"/>
<circle cx="289.9" cy="107.6" r="2.1"/>
<circle cx="298.3" cy="108.5" r="2.1"/>
<circle cx="294.4" cy="109.8" r="2.1"/>
<circle cx="305.4" cy="110.8" r="2.1"/>
<circle cx="325.4" cy="107.9" r="2.1"/>
<circle cx="319.1" cy="110.8" r="2.1"/>
<circle cx="316.5" cy="112.7" r="2.1"/>
<circle cx="322.3" cy="112.7" r="2.1"/>
<circle cx="292.5" cy="112.7" r="2.1"/>
<circle cx="301.2" cy="113.7" r="2.1"/>
<circle cx="288.6" cy="115.3" r="2.1"/>
<circle cx="297.3" cy="116.0" r="2.1"/>
<circle cx="308.0" cy="116.6" r="2.1"/>
<circle cx="311.3" cy="116.6" r="2.1"/>
<circle cx="317.1" cy="116.6" r="2.1"/>
<circle cx="321.0" cy="116.6" r="2.1"/>
<circle cx="324.9" cy="114.7" r="2.1"/>
<circle cx="291.2" cy="119.2" r="2.1"/>
<circle cx="299.0" cy="119.4" r="2.1"/>
<circle cx="305.4" cy="119.6" r="2.1"/>
<circle cx="318.4" cy="119.9" r="2.1"/>
<circle cx="323.6" cy="119.9" r="2.1"/>
<circle cx="287.6" cy="119.6" r="2.1"/>
<circle cx="329.8" cy="98.5" r="2.1"/>
<circle cx="333.1" cy="107.2" r="2.1"/>
<circle cx="324.6" cy="110.8" r="2.1"/>
<circle cx="328.5" cy="112.7" r="2.1"/>
<circle cx="329.2" cy="116.0" r="2.1"/>
<circle cx="325.3" cy="116.6" r="2.1"/>
<circle cx="326.5" cy="119.6" r="2.1"/>
<circle cx="354.5" cy="101.1" r="2.1"/>
<circle cx="343.8" cy="108.2" r="2.1"/>
<circle cx="347.7" cy="106.6" r="2.1"/>
<circle cx="353.5" cy="108.9" r="2.1"/>
<circle cx="349.9" cy="110.8" r="2.1"/>
<circle cx="346.7" cy="113.1" r="2.1"/>
<circle cx="351.2" cy="112.7" r="2.1"/>
<circle cx="349.3" cy="116.6" r="2.1"/>
<circle cx="351.9" cy="117.3" r="2.1"/>
<circle cx="346.4" cy="119.9" r="2.1"/>
<circle cx="361.0" cy="104.3" r="2.1"/>
<circle cx="359.0" cy="108.9" r="2.1"/>
<circle cx="362.2" cy="108.2" r="2.1"/>
<circle cx="359.7" cy="116.6" r="2.1"/>
<circle cx="362.8" cy="114.7" r="2.1"/>
<circle cx="357.8" cy="120.2" r="2.1"/>
<circle cx="362.2" cy="119.2" r="2.1"/>
<circle cx="293.1" cy="121.2" r="2.1"/>
<circle cx="316.5" cy="119.9" r="2.1"/>
<circle cx="321.0" cy="119.9" r="2.1"/>
<circle cx="324.2" cy="121.9" r="2.1"/>
<circle cx="287.3" cy="131.0" r="2.1"/>
<circle cx="293.8" cy="134.5" r="2.1"/>
<circle cx="298.0" cy="133.9" r="2.1"/>
<circle cx="306.1" cy="136.5" r="2.1"/>
<circle cx="311.3" cy="136.8" r="2.1"/>
<circle cx="311.9" cy="139.4" r="2.1"/>
<circle cx="316.5" cy="134.9" r="2.1"/>
<circle cx="319.7" cy="135.5" r="2.1"/>
<circle cx="323.6" cy="135.5" r="2.1"/>
<circle cx="290.0" cy="128.0" r="2.1"/>
<circle cx="300.0" cy="129.0" r="2.1"/>
<circle cx="312.0" cy="128.0" r="2.1"/>
<circle cx="320.0" cy="129.0" r="2.1"/>
<circle cx="329.2" cy="119.0" r="2.1"/>
<circle cx="326.6" cy="121.9" r="2.1"/>
<circle cx="331.8" cy="124.5" r="2.1"/>
<circle cx="329.8" cy="127.1" r="2.1"/>
<circle cx="324.6" cy="134.2" r="2.1"/>
<circle cx="327.9" cy="137.4" r="2.1"/>
<circle cx="331.1" cy="135.5" r="2.1"/>
<circle cx="344.7" cy="124.5" r="2.1"/>
<circle cx="345.4" cy="128.4" r="2.1"/>
<circle cx="351.2" cy="121.9" r="2.1"/>
<circle cx="353.2" cy="123.2" r="2.1"/>
<circle cx="360.3" cy="123.2" r="2.1"/>
<circle cx="363.1" cy="124.7" r="2.1"/>
<circle cx="343.4" cy="135.5" r="2.1"/>
<circle cx="349.3" cy="136.8" r="2.1"/>
<circle cx="362.1" cy="137.8" r="2.1"/>
<circle cx="393.8" cy="98.2" r="2.1"/>
<circle cx="398.3" cy="98.8" r="2.1"/>
<circle cx="371.7" cy="98.8" r="2.1"/>
<circle cx="373.7" cy="100.1" r="2.1"/>
<circle cx="378.9" cy="101.7" r="2.1"/>
<circle cx="382.1" cy="102.4" r="2.1"/>
<circle cx="385.7" cy="103.0" r="2.1"/>
<circle cx="391.8" cy="103.7" r="2.1"/>
<circle cx="396.7" cy="104.6" r="2.1"/>
<circle cx="374.6" cy="104.3" r="2.1"/>
<circle cx="362.6" cy="104.0" r="2.1"/>
<circle cx="365.2" cy="105.6" r="2.1"/>
<circle cx="369.8" cy="105.9" r="2.1"/>
<circle cx="367.2" cy="107.9" r="2.1"/>
<circle cx="379.5" cy="106.3" r="2.1"/>
<circle cx="380.8" cy="108.2" r="2.1"/>
<circle cx="378.2" cy="107.6" r="2.1"/>
<circle cx="386.0" cy="109.5" r="2.1"/>
<circle cx="389.2" cy="108.2" r="2.1"/>
<circle cx="391.8" cy="108.9" r="2.1"/>
<circle cx="398.3" cy="110.2" r="2.1"/>
<circle cx="363.3" cy="111.4" r="2.1"/>
<circle cx="370.4" cy="112.1" r="2.1"/>
<circle cx="376.9" cy="111.4" r="2.1"/>
<circle cx="375.9" cy="112.7" r="2.1"/>
<circle cx="387.3" cy="112.7" r="2.1"/>
<circle cx="390.5" cy="113.4" r="2.1"/>
<circle cx="401.1" cy="112.7" r="2.1"/>
<circle cx="364.6" cy="116.6" r="2.1"/>
<circle cx="371.1" cy="117.3" r="2.1"/>
<circle cx="375.0" cy="118.6" r="2.1"/>
<circle cx="380.5" cy="117.8" r="2.1"/>
<circle cx="389.9" cy="117.9" r="2.1"/>
<circle cx="389.9" cy="120.2" r="2.1"/>
<circle cx="397.0" cy="121.8" r="2.1"/>
<circle cx="373.4" cy="121.6" r="2.1"/>
<circle cx="406.8" cy="97.2" r="2.1"/>
<circle cx="418.2" cy="96.9" r="2.1"/>
<circle cx="418.8" cy="99.1" r="2.1"/>
<circle cx="422.0" cy="100.4" r="2.1"/>
<circle cx="418.8" cy="104.0" r="2.1"/>
<circle cx="428.8" cy="103.0" r="2.1"/>
<circle cx="435.7" cy="101.4" r="2.1"/>
<circle cx="421.4" cy="107.2" r="2.1"/>
<circle cx="427.9" cy="107.6" r="2.1"/>
<circle cx="404.9" cy="109.5" r="2.1"/>
<circle cx="407.1" cy="108.9" r="2.1"/>
<circle cx="410.7" cy="108.9" r="2.1"/>
<circle cx="413.6" cy="110.2" r="2.1"/>
<circle cx="406.2" cy="111.8" r="2.1"/>
<circle cx="423.3" cy="111.4" r="2.1"/>
<circle cx="428.5" cy="111.4" r="2.1"/>
<circle cx="422.0" cy="113.7" r="2.1"/>
<circle cx="425.9" cy="112.7" r="2.1"/>
<circle cx="434.4" cy="109.5" r="2.1"/>
<circle cx="438.3" cy="107.9" r="2.1"/>
<circle cx="436.3" cy="113.4" r="2.1"/>
<circle cx="439.4" cy="113.7" r="2.1"/>
<circle cx="413.9" cy="115.7" r="2.1"/>
<circle cx="408.8" cy="118.1" r="2.1"/>
<circle cx="405.2" cy="120.5" r="2.1"/>
<circle cx="421.9" cy="119.2" r="2.1"/>
<circle cx="435.0" cy="118.9" r="2.1"/>
<circle cx="439.9" cy="118.9" r="2.1"/>
<circle cx="447.1" cy="99.1" r="2.1"/>
<circle cx="471.1" cy="98.2" r="2.1"/>
<circle cx="468.5" cy="100.4" r="2.1"/>
<circle cx="463.0" cy="103.0" r="2.1"/>
<circle cx="463.9" cy="107.6" r="2.1"/>
<circle cx="451.6" cy="105.0" r="2.1"/>
<circle cx="449.0" cy="107.9" r="2.1"/>
<circle cx="474.3" cy="103.0" r="2.1"/>
<circle cx="477.1" cy="101.2" r="2.1"/>
<circle cx="472.4" cy="107.2" r="2.1"/>
<circle cx="475.6" cy="106.3" r="2.1"/>
<circle cx="452.9" cy="110.8" r="2.1"/>
<circle cx="456.8" cy="110.5" r="2.1"/>
<circle cx="454.2" cy="112.7" r="2.1"/>
<circle cx="451.0" cy="114.0" r="2.1"/>
<circle cx="459.4" cy="114.4" r="2.1"/>
<circle cx="462.0" cy="114.4" r="2.1"/>
<circle cx="447.7" cy="116.6" r="2.1"/>
<circle cx="452.3" cy="116.6" r="2.1"/>
<circle cx="469.8" cy="114.7" r="2.1"/>
<circle cx="473.0" cy="112.7" r="2.1"/>
<circle cx="476.2" cy="111.4" r="2.1"/>
<circle cx="470.4" cy="117.7" r="2.1"/>
<circle cx="476.9" cy="116.0" r="2.1"/>
<circle cx="444.5" cy="120.5" r="2.1"/>
<circle cx="451.3" cy="120.2" r="2.1"/>
<circle cx="463.0" cy="120.2" r="2.1"/>
<circle cx="475.3" cy="121.6" r="2.1"/>
<circle cx="483.8" cy="99.1" r="2.1"/>
<circle cx="504.5" cy="100.4" r="2.1"/>
<circle cx="514.8" cy="101.7" r="2.1"/>
<circle cx="478.6" cy="104.0" r="2.1"/>
<circle cx="499.0" cy="103.3" r="2.1"/>
<circle cx="495.4" cy="106.9" r="2.1"/>
<circle cx="498.7" cy="109.2" r="2.1"/>
<circle cx="500.0" cy="111.1" r="2.1"/>
<circle cx="496.7" cy="112.1" r="2.1"/>
<circle cx="510.4" cy="108.2" r="2.1"/>
<circle cx="513.0" cy="110.8" r="2.1"/>
<circle cx="508.7" cy="112.1" r="2.1"/>
<circle cx="482.2" cy="109.8" r="2.1"/>
<circle cx="476.6" cy="109.5" r="2.1"/>
<circle cx="477.3" cy="114.0" r="2.1"/>
<circle cx="491.9" cy="112.7" r="2.1"/>
<circle cx="494.2" cy="114.7" r="2.1"/>
<circle cx="491.9" cy="116.0" r="2.1"/>
<circle cx="486.4" cy="116.6" r="2.1"/>
<circle cx="484.4" cy="118.2" r="2.1"/>
<circle cx="490.3" cy="118.8" r="2.1"/>
<circle cx="495.1" cy="119.2" r="2.1"/>
<circle cx="498.0" cy="118.4" r="2.1"/>
<circle cx="481.2" cy="120.8" r="2.1"/>
<circle cx="503.9" cy="119.9" r="2.1"/>
<circle cx="514.8" cy="115.3" r="2.1"/>
<circle cx="512.3" cy="119.2" r="2.1"/>
<circle cx="525.3" cy="99.8" r="2.1"/>
<circle cx="521.8" cy="102.4" r="2.1"/>
<circle cx="530.2" cy="102.4" r="2.1"/>
<circle cx="522.1" cy="105.0" r="2.1"/>
<circle cx="521.1" cy="106.9" r="2.1"/>
<circle cx="528.9" cy="106.3" r="2.1"/>
<circle cx="531.5" cy="108.2" r="2.1"/>
<circle cx="526.0" cy="110.2" r="2.1"/>
<circle cx="529.6" cy="110.8" r="2.1"/>
<circle cx="530.9" cy="112.7" r="2.1"/>
<circle cx="551.0" cy="99.1" r="2.1"/>
<circle cx="549.7" cy="103.3" r="2.1"/>
<circle cx="552.0" cy="104.3" r="2.1"/>
<circle cx="546.4" cy="107.2" r="2.1"/>
<circle cx="553.1" cy="113.4" r="2.1"/>
<circle cx="514.6" cy="110.8" r="2.1"/>
<circle cx="515.9" cy="119.2" r="2.1"/>
<circle cx="523.1" cy="114.7" r="2.1"/>
<circle cx="524.4" cy="118.9" r="2.1"/>
<circle cx="520.8" cy="121.3" r="2.1"/>
<circle cx="531.4" cy="121.0" r="2.1"/>
<circle cx="546.1" cy="120.1" r="2.1"/>
<circle cx="551.3" cy="120.6" r="2.1"/>
<circle cx="559.5" cy="97.5" r="2.1"/>
<circle cx="554.6" cy="99.8" r="2.1"/>
<circle cx="567.9" cy="99.8" r="2.1"/>
<circle cx="579.2" cy="104.0" r="2.1"/>
<circle cx="563.7" cy="103.0" r="2.1"/>
<circle cx="565.6" cy="105.6" r="2.1"/>
<circle cx="556.5" cy="105.6" r="2.1"/>
<circle cx="572.1" cy="108.9" r="2.1"/>
<circle cx="569.5" cy="110.5" r="2.1"/>
<circle cx="564.0" cy="109.5" r="2.1"/>
<circle cx="588.4" cy="109.7" r="2.1"/>
<circle cx="590.2" cy="112.1" r="2.1"/>
<circle cx="563.3" cy="114.4" r="2.1"/>
<circle cx="566.9" cy="114.4" r="2.1"/>
<circle cx="572.7" cy="114.7" r="2.1"/>
<circle cx="578.6" cy="114.4" r="2.1"/>
<circle cx="582.1" cy="114.6" r="2.1"/>
<circle cx="585.5" cy="116.1" r="2.1"/>
<circle cx="590.9" cy="114.8" r="2.1"/>
<circle cx="561.4" cy="119.4" r="2.1"/>
<circle cx="568.2" cy="118.8" r="2.1"/>
<circle cx="553.3" cy="120.5" r="2.1"/>
<circle cx="583.3" cy="121.8" r="2.1"/>
<circle cx="364.6" cy="118.3" r="2.1"/>
<circle cx="372.4" cy="119.3" r="2.1"/>
<circle cx="369.8" cy="122.2" r="2.1"/>
<circle cx="376.9" cy="124.2" r="2.1"/>
<circle cx="382.1" cy="123.5" r="2.1"/>
<circle cx="384.7" cy="122.5" r="2.1"/>
<circle cx="384.7" cy="125.1" r="2.1"/>
<circle cx="379.8" cy="127.4" r="2.1"/>
<circle cx="387.0" cy="127.7" r="2.1"/>
<circle cx="394.4" cy="123.8" r="2.1"/>
<circle cx="401.1" cy="123.8" r="2.1"/>
<circle cx="376.3" cy="134.9" r="2.1"/>
<circle cx="380.2" cy="138.7" r="2.1"/>
<circle cx="365.2" cy="138.7" r="2.1"/>
<circle cx="371.7" cy="145.2" r="2.1"/>
<circle cx="386.0" cy="140.0" r="2.1"/>
<circle cx="391.8" cy="138.1" r="2.1"/>
<circle cx="395.7" cy="137.4" r="2.1"/>
<circle cx="400.3" cy="144.6" r="2.1"/>
<circle cx="415.9" cy="122.5" r="2.1"/>
<circle cx="421.4" cy="123.2" r="2.1"/>
<circle cx="424.0" cy="125.8" r="2.1"/>
<circle cx="426.6" cy="122.5" r="2.1"/>
<circle cx="431.1" cy="123.8" r="2.1"/>
<circle cx="435.0" cy="121.2" r="2.1"/>
<circle cx="433.7" cy="127.1" r="2.1"/>
<circle cx="438.4" cy="125.4" r="2.1"/>
<circle cx="417.5" cy="127.1" r="2.1"/>
<circle cx="406.5" cy="142.6" r="2.1"/>
<circle cx="415.6" cy="138.7" r="2.1"/>
<circle cx="427.2" cy="135.5" r="2.1"/>
<circle cx="427.2" cy="138.7" r="2.1"/>
<circle cx="431.1" cy="141.3" r="2.1"/>
<circle cx="408.4" cy="146.5" r="2.1"/>
<circle cx="447.7" cy="119.3" r="2.1"/>
<circle cx="449.7" cy="123.8" r="2.1"/>
<circle cx="444.5" cy="127.1" r="2.1"/>
<circle cx="467.2" cy="124.5" r="2.1"/>
<circle cx="470.4" cy="122.9" r="2.1"/>
<circle cx="473.7" cy="126.4" r="2.1"/>
<circle cx="441.9" cy="140.7" r="2.1"/>
<circle cx="458.7" cy="142.6" r="2.1"/>
<circle cx="470.4" cy="138.1" r="2.1"/>
<circle cx="472.4" cy="138.7" r="2.1"/>
<circle cx="476.6" cy="123.2" r="2.1"/>
<circle cx="476.6" cy="125.1" r="2.1"/>
<circle cx="482.5" cy="123.2" r="2.1"/>
<circle cx="502.6" cy="123.2" r="2.1"/>
<circle cx="494.2" cy="124.5" r="2.1"/>
<circle cx="479.9" cy="128.4" r="2.1"/>
<circle cx="487.0" cy="128.4" r="2.1"/>
<circle cx="492.2" cy="128.4" r="2.1"/>
<circle cx="512.3" cy="123.2" r="2.1"/>
<circle cx="514.9" cy="122.5" r="2.1"/>
<circle cx="480.5" cy="137.4" r="2.1"/>
<circle cx="490.3" cy="142.6" r="2.1"/>
<circle cx="503.2" cy="144.6" r="2.1"/>
<circle cx="514.9" cy="139.4" r="2.1"/>
<circle cx="514.9" cy="145.2" r="2.1"/>
<circle cx="527.0" cy="122.9" r="2.1"/>
<circle cx="514.6" cy="126.4" r="2.1"/>
<circle cx="517.2" cy="127.7" r="2.1"/>
<circle cx="527.6" cy="129.0" r="2.1"/>
<circle cx="545.1" cy="124.2" r="2.1"/>
<circle cx="548.4" cy="125.1" r="2.1"/>
<circle cx="552.9" cy="123.8" r="2.1"/>
<circle cx="543.2" cy="128.4" r="2.1"/>
<circle cx="516.6" cy="139.4" r="2.1"/>
<circle cx="521.1" cy="142.0" r="2.1"/>
<circle cx="546.4" cy="142.0" r="2.1"/>
<circle cx="552.8" cy="146.5" r="2.1"/>
<circle cx="514.3" cy="135.5" r="2.1"/>
<circle cx="556.5" cy="123.8" r="2.1"/>
<circle cx="559.1" cy="123.2" r="2.1"/>
<circle cx="565.6" cy="125.8" r="2.1"/>
<circle cx="568.2" cy="127.1" r="2.1"/>
<circle cx="571.4" cy="125.1" r="2.1"/>
<circle cx="573.4" cy="122.5" r="2.1"/>
<circle cx="578.6" cy="123.2" r="2.1"/>
<circle cx="584.4" cy="125.8" r="2.1"/>
<circle cx="576.6" cy="129.0" r="2.1"/>
<circle cx="585.7" cy="119.3" r="2.1"/>
<circle cx="590.9" cy="127.7" r="2.1"/>
<circle cx="552.0" cy="139.4" r="2.1"/>
<circle cx="559.1" cy="145.2" r="2.1"/>
<circle cx="570.8" cy="136.8" r="2.1"/>
<circle cx="573.4" cy="135.5" r="2.1"/>
<circle cx="576.6" cy="146.5" r="2.1"/>
<circle cx="583.4" cy="138.1" r="2.1"/>
<circle cx="592.1" cy="112.0" r="2.1"/>
<circle cx="595.1" cy="110.1" r="2.1"/>
<circle cx="595.7" cy="123.4" r="2.1"/>
<circle cx="601.8" cy="135.5" r="2.1"/>
<circle cx="595.7" cy="138.0" r="2.1"/>
<circle cx="66.5" cy="116.0" r="2.1"/>
<circle cx="70.5" cy="118.0" r="2.1"/>
<circle cx="73.0" cy="114.0" r="2.1"/>
<circle cx="128.0" cy="55.4" r="2.1"/>
<circle cx="134.8" cy="51.5" r="2.1"/>
<circle cx="124.8" cy="57.6" r="2.1"/>
<circle cx="146.9" cy="55.1" r="2.1"/>
<circle cx="141.0" cy="64.0" r="2.1"/>
<circle cx="152.9" cy="55.4" r="2.1"/>
<circle cx="105.4" cy="83.2" r="2.1"/>
<circle cx="108.0" cy="80.6" r="2.1"/>
<circle cx="113.2" cy="83.9" r="2.1"/>
<circle cx="108.0" cy="89.1" r="2.1"/>
<circle cx="97.6" cy="97.5" r="2.1"/>
<circle cx="101.2" cy="98.8" r="2.1"/>
<circle cx="105.4" cy="98.8" r="2.1"/>
<circle cx="91.8" cy="102.7" r="2.1"/>
<circle cx="95.7" cy="100.7" r="2.1"/>
<circle cx="90.5" cy="105.9" r="2.1"/>
<circle cx="117.9" cy="101.0" r="2.1"/>
<circle cx="121.0" cy="89.1" r="2.1"/>
<circle cx="122.9" cy="86.5" r="2.1"/>
<circle cx="116.4" cy="107.9" r="2.1"/>
<circle cx="84.6" cy="129.7" r="2.1"/>
<circle cx="79.4" cy="134.9" r="2.1"/>
<circle cx="80.7" cy="136.9" r="2.1"/>
<circle cx="110.9" cy="112.3" r="2.1"/>
<circle cx="114.2" cy="113.6" r="2.1"/>
<circle cx="97.9" cy="115.6" r="2.1"/>
<circle cx="99.2" cy="125.9" r="2.1"/>
<circle cx="129.3" cy="37.9" r="2.1"/>
<circle cx="146.2" cy="52.2" r="2.1"/>
<circle cx="129.9" cy="54.2" r="2.1"/>
<circle cx="139.0" cy="64.5" r="2.1"/>
<circle cx="146.8" cy="63.9" r="2.1"/>
<circle cx="189.4" cy="81.1" r="2.1"/>
<circle cx="183.0" cy="83.7" r="2.1"/>
<circle cx="185.6" cy="82.4" r="2.1"/>
<circle cx="187.5" cy="85.7" r="2.1"/>
<circle cx="190.7" cy="85.0" r="2.1"/>
<circle cx="194.6" cy="85.7" r="2.1"/>
<circle cx="185.6" cy="88.9" r="2.1"/>
<circle cx="201.1" cy="90.2" r="2.1"/>
<circle cx="205.7" cy="90.9" r="2.1"/>
<circle cx="179.1" cy="92.8" r="2.1"/>
<circle cx="186.9" cy="98.6" r="2.1"/>
<circle cx="189.4" cy="99.9" r="2.1"/>
<circle cx="200.5" cy="95.4" r="2.1"/>
<circle cx="206.3" cy="95.4" r="2.1"/>
<circle cx="208.9" cy="92.8" r="2.1"/>
<circle cx="201.8" cy="98.6" r="2.1"/>
<circle cx="207.0" cy="99.3" r="2.1"/>
<circle cx="185.2" cy="101.9" r="2.1"/>
<circle cx="200.5" cy="102.5" r="2.1"/>
<circle cx="181.0" cy="103.9" r="2.1"/>
<circle cx="188.8" cy="106.5" r="2.1"/>
<circle cx="192.7" cy="113.6" r="2.1"/>
<polyline points="62.90,199.80 62.90,132.00 63.30,131.00 64.00,131.24 64.40,131.59 64.80,131.45 65.20,130.79 65.60,129.67 66.00,128.24 66.40,126.67 66.80,125.18 67.20,123.98 67.60,123.24 68.00,123.06 68.40,123.46 68.80,124.36 69.20,125.61 69.60,127.02 70.00,128.36 70.40,129.38 70.80,129.92 71.20,129.87 71.60,129.20 72.00,128.00 72.40,126.42 72.80,124.67 73.20,122.99 73.60,121.61 74.00,120.71 74.40,120.41 74.80,120.74 75.20,121.60 75.60,122.86 76.00,124.30 76.40,125.69 76.80,126.80 77.20,127.44 77.60,127.51 78.00,126.97 78.40,125.91 78.80,124.46 79.20,122.84 79.60,121.26 80.00,119.94 80.40,119.05 80.80,118.69 81.20,118.88 81.60,119.56 82.00,120.59 82.40,121.75 82.80,122.88 83.20,123.78 83.60,124.31 84.00,124.37 84.40,123.96 84.80,123.12 85.20,121.99 85.60,120.71 86.00,119.46 86.40,118.40 86.80,117.66 87.20,117.29 87.60,117.30 88.00,117.65 88.40,118.09 88.80,118.64 89.20,119.16 89.60,119.52 90.00,119.64 90.40,119.49 90.80,119.06 91.20,118.40 91.60,117.60 92.00,116.76 92.40,115.97 92.80,115.35 93.20,114.90 93.60,114.62 94.00,114.50 94.40,114.49 94.80,114.51 95.20,114.53 95.60,114.47 96.00,114.32 96.40,114.08 97.00,113.50 99.50,112.80 101.20,111.80 103.80,105.20 106.00,106.80 110.40,95.20 112.80,97.50 117.80,82.60 120.00,85.30 124.30,70.20 127.20,72.20 130.40,57.20 133.00,60.60 137.10,53.70 140.60,58.00 144.90,57.40 148.30,58.60 151.40,62.60 154.00,60.80 156.00,62.50 156.40,64.00 156.60,150.00 157.20,158.30 159.30,154.00 161.40,150.20 163.00,155.00 164.40,159.20 166.40,154.50 168.00,150.60 170.20,156.50 171.10,156.20 171.30,90.00 171.60,84.00 174.50,80.20 177.80,88.00 180.80,86.20 183.80,91.20 188.20,93.40 191.40,96.00 194.60,100.40 197.60,98.70 201.70,106.50 205.20,101.80 208.80,111.00 212.00,104.80 215.40,115.30 218.50,107.60 221.90,117.80 225.50,110.70 228.80,117.80 232.50,114.50 234.60,117.20 238.90,117.80 241.00,117.60 241.50,119.21 241.90,118.99 242.30,118.80 242.70,118.71 243.10,118.75 243.50,118.96 243.90,119.32 244.30,119.79 244.70,120.30 245.10,120.77 245.50,121.14 245.90,121.29 246.30,121.18 246.70,120.81 247.10,120.21 247.50,119.49 247.90,118.75 248.30,118.14 248.70,117.78 249.10,117.75 249.50,118.11 249.90,118.82 250.30,119.82 250.70,120.96 251.10,122.10 251.50,123.04 251.90,123.66 252.30,123.83 252.70,123.52 253.10,122.77 253.50,121.69 253.90,120.44 254.30,119.22 254.70,118.23 255.10,117.65 255.50,117.59 255.90,118.09 256.30,119.09 256.70,120.47 257.10,122.04 257.50,123.56 257.90,124.82 258.30,125.61 258.70,125.83 259.10,125.44 259.50,124.49 259.90,123.14 260.30,121.59 260.70,120.09 261.10,118.88 261.50,118.16 261.90,118.05 262.30,118.58 262.70,119.68 263.10,121.21 263.50,122.92 263.90,124.59 264.30,125.95 264.70,126.82 265.10,127.08 265.50,126.69 265.90,125.74 266.30,124.37 266.70,122.81 267.10,121.31 267.50,120.10 267.90,119.37 268.30,119.23 268.70,119.71 269.10,120.73 269.50,122.14 269.90,123.72 270.30,125.25 270.70,126.50 271.10,127.30 271.50,127.56 271.90,127.25 272.30,126.46 272.70,125.33 273.10,124.04 273.50,122.81 273.90,121.83 274.30,121.25 274.70,121.14 275.10,121.52 275.50,122.30 275.90,123.37 276.30,124.56 276.70,125.69 277.10,126.60 277.50,127.18 277.90,127.37 278.30,127.18 278.70,126.68 279.10,125.96 279.50,125.18 279.90,124.46 280.30,123.92 280.70,123.63 281.10,123.62 281.50,123.88 281.90,124.35 282.30,124.93 282.70,125.54 283.10,126.07 283.50,126.47 283.90,126.70 284.30,126.75 284.70,126.67 285.10,126.51 285.50,126.33 285.90,126.19 286.30,126.12 286.70,126.16 287.10,126.27 287.50,126.39 287.90,126.36 288.30,126.39 288.70,126.52 289.10,126.76 289.50,127.07 289.90,127.41 290.30,127.72 290.70,127.94 291.10,128.01 291.50,127.89 291.90,127.59 292.30,127.15 292.70,126.63 293.10,126.13 293.50,125.74 293.90,125.57 294.30,125.67 294.70,126.07 295.10,126.75 295.50,127.64 295.90,128.62 296.30,129.55 296.70,130.30 297.10,130.75 297.50,130.81 297.90,130.46 298.30,129.73 298.70,128.73 299.10,127.59 299.50,126.51 299.90,125.64 300.30,125.12 300.70,125.07 301.10,125.52 301.50,126.45 301.90,127.72 302.30,129.18 302.70,130.60 303.10,131.79 303.50,132.56 303.90,132.78 304.30,132.42 304.70,131.51 305.10,130.18 305.50,128.61 305.90,127.04 306.30,125.70 306.70,124.80 307.10,124.47 307.50,124.78 307.90,125.70 308.30,127.10 308.70,128.78 309.10,130.51 309.50,132.04 309.90,133.14 310.30,133.66 310.70,133.52 311.10,132.75 311.50,131.46 311.90,129.83 312.30,128.12 312.70,126.57 313.10,125.41 313.50,124.81 313.90,124.85 314.30,125.53 314.70,126.74 315.10,128.31 315.50,130.01 315.90,131.60 316.30,132.84 316.70,133.58 317.10,133.71 317.50,133.24 317.90,132.25 318.30,130.89 318.70,129.38 319.10,127.93 319.50,126.77 319.90,126.05 320.30,125.87 320.70,126.22 321.10,127.06 321.50,128.24 321.90,129.58 322.30,130.89 322.70,131.98 323.10,132.71 323.50,132.99 323.90,132.82 324.30,132.24 324.70,131.36 325.10,130.33 325.50,129.32 325.90,128.47 326.30,127.90 326.70,127.67 327.10,127.80 327.50,128.23 327.90,128.89 328.30,129.65 328.70,130.40 329.10,131.04 329.50,131.47 329.90,131.67 330.30,131.63 330.70,131.40 331.10,131.04 331.50,130.64 331.90,130.28 332.30,130.01 332.70,129.87 333.10,129.86 333.50,129.96 333.90,130.13 334.30,130.31 334.70,130.45 335.10,130.52 335.50,130.64 335.90,130.80 336.30,130.93 336.70,130.99 337.10,130.94 337.50,130.76 337.90,130.47 338.30,130.11 338.70,129.75 339.10,129.45 339.50,129.31 339.90,129.36 340.30,129.64 340.70,130.13 341.10,130.78 341.50,131.51 341.90,132.19 342.30,132.72 342.70,132.99 343.10,132.94 343.50,132.55 343.90,131.85 344.30,130.93 344.70,129.92 345.10,128.97 345.50,128.23 345.90,127.84 346.30,127.87 346.70,128.36 347.10,129.25 347.50,130.43 347.90,131.74 348.30,132.99 348.70,133.99 349.10,134.58 349.50,134.67 349.90,134.21 350.30,133.26 350.70,131.95 351.10,130.45 351.50,129.00 351.90,127.80 352.30,127.05 352.70,126.86 353.10,127.29 353.50,128.27 353.90,129.69 354.30,131.34 354.70,132.98 355.10,134.39 355.50,135.34 355.90,135.70 356.30,135.41 356.70,134.50 357.10,133.12 357.50,131.45 357.90,129.74 358.30,128.25 358.70,127.18 359.10,126.71 359.50,126.89 359.90,127.71 360.30,129.04 360.70,130.69 361.10,132.42 361.50,133.99 361.90,135.17 362.30,135.79 362.70,135.77 363.10,135.13 363.50,133.97 363.90,132.47 364.30,130.84 364.70,129.34 365.10,128.17 365.50,127.51 365.90,127.42 366.30,127.92 366.70,128.92 367.10,130.26 367.50,131.74 367.90,133.15 368.30,134.28 368.70,134.99 369.10,135.19 369.50,134.87 369.90,134.11 370.30,133.04 370.70,131.82 371.10,130.64 371.50,129.68 371.90,129.05 372.30,128.84 372.70,129.05 373.10,129.62 373.50,130.46 373.90,131.41 374.30,132.35 374.70,133.12 375.10,133.65 375.50,133.86 375.90,133.77 376.30,133.41 376.70,132.87 377.10,132.26 377.50,131.67 377.90,131.20 378.30,130.90 378.70,130.80 379.10,130.89 379.50,131.12 379.90,131.43 380.30,131.75 380.70,132.02 381.10,132.19 381.50,132.25 381.90,132.21 382.30,132.11 382.70,132.06 383.10,132.12 383.50,132.11 383.90,132.00 384.30,131.81 384.70,131.58 385.10,131.36 385.50,131.23 385.90,131.22 386.30,131.38 386.70,131.71 387.10,132.17 387.50,132.71 387.90,133.24 388.30,133.67 388.70,133.90 389.10,133.88 389.50,133.59 389.90,133.03 390.30,132.27 390.70,131.42 391.10,130.61 391.50,129.97 391.90,129.62 392.30,129.62 392.70,130.02 393.10,130.78 393.50,131.80 393.90,132.95 394.30,134.06 394.70,134.96 395.10,135.50 395.50,135.58 395.90,135.18 396.30,134.33 396.70,133.13 397.10,131.77 397.50,130.42 397.90,129.31 398.30,128.60 398.70,128.41 399.10,128.78 399.50,129.69 399.90,131.00 400.30,132.54 400.70,134.09 401.10,135.42 401.50,136.33 401.90,136.68 402.30,136.41 402.70,135.55 403.10,134.22 403.50,132.62 403.90,130.96 404.30,129.50 404.70,128.45 405.10,127.97 405.50,128.13 405.90,128.91 406.30,130.21 406.70,131.82 407.10,133.53 407.50,135.08 407.90,136.25 408.30,136.88 408.70,136.87 409.10,136.23 409.50,135.07 409.90,133.55 410.30,131.91 410.70,130.37 411.10,129.17 411.50,128.47 411.90,128.37 412.30,128.86 412.70,129.87 413.10,131.25 413.50,132.78 413.90,134.24 414.30,135.42 414.70,136.17 415.10,136.39 415.50,136.07 415.90,135.27 416.30,134.12 416.70,132.81 417.10,131.53 417.50,130.47 417.90,129.76 418.30,129.50 418.70,129.71 419.10,130.32 419.50,131.23 419.90,132.30 420.30,133.35 420.70,134.25 421.10,134.86 421.50,135.13 421.90,135.04 422.30,134.63 422.70,133.99 423.10,133.24 423.50,132.49 423.90,131.86 424.30,131.44 424.70,131.25 425.10,131.31 425.50,131.58 425.90,131.98 426.30,132.44 426.70,132.87 427.10,133.21 427.50,133.41 427.90,133.48 428.30,133.41 428.70,133.27 429.10,133.10 429.50,132.96 429.90,132.88 430.30,132.86 430.70,132.75 431.10,132.66 431.50,132.65 431.90,132.73 432.30,132.92 432.70,133.19 433.10,133.51 433.50,133.80 433.90,134.00 434.30,134.05 434.70,133.92 435.10,133.59 435.50,133.10 435.90,132.50 436.30,131.88 436.70,131.34 437.10,130.98 437.50,130.88 437.90,131.08 438.30,131.57 438.70,132.32 439.10,133.23 439.50,134.16 439.90,134.99 440.30,135.57 440.70,135.81 441.10,135.65 441.50,135.08 441.90,134.16 442.30,133.02 442.70,131.81 443.10,130.70 443.50,129.86 443.90,129.43 444.30,129.49 444.70,130.04 445.10,131.04 445.50,132.34 445.90,133.77 446.30,135.14 446.70,136.24 447.10,136.90 447.50,137.02 447.90,136.57 448.30,135.60 448.70,134.24 449.10,132.68 449.50,131.12 449.90,129.81 450.30,128.92 450.70,128.59 451.10,128.87 451.50,129.74 451.90,131.07 452.30,132.68 452.70,134.34 453.10,135.82 453.50,136.91 453.90,137.45 454.30,137.38 454.70,136.69 455.10,135.49 455.50,133.94 455.90,132.28 456.30,130.72 456.70,129.50 457.10,128.78 457.50,128.65 457.90,129.13 458.30,130.15 458.70,131.54 459.10,133.12 459.50,134.65 459.90,135.93 460.30,136.78 460.70,137.09 461.10,136.83 461.50,136.05 461.90,134.88 462.30,133.48 462.70,132.07 463.10,130.84 463.50,129.96 463.90,129.53 464.30,129.60 464.70,130.15 465.10,131.07 465.50,132.21 465.90,133.42 466.30,134.51 466.70,135.35 467.10,135.82 467.50,135.88 467.90,135.55 468.30,134.90 468.70,134.05 469.10,133.12 469.50,132.26 469.90,131.58 470.30,131.16 470.70,131.05 471.10,131.22 471.50,131.63 471.90,132.20 472.30,132.81 472.70,133.39 473.10,133.84 473.50,134.11 473.90,134.20 474.30,134.10 474.70,133.88 475.10,133.59 475.50,133.29 475.90,133.05 476.30,132.90 476.70,132.86 477.10,132.90 477.50,133.01 477.90,133.12 478.30,133.17 478.70,133.13 479.10,133.00 479.50,132.80 479.90,132.57 480.30,132.37 480.70,132.25 481.10,132.27 481.50,132.45 481.90,132.78 482.30,133.24 482.70,133.77 483.10,134.27 483.50,134.65 483.90,134.85 484.30,134.79 484.70,134.47 485.10,133.89 485.50,133.14 485.90,132.29 486.30,131.49 486.70,130.86 487.10,130.50 487.50,130.50 487.90,130.87 488.30,131.60 488.70,132.59 489.10,133.72 489.50,134.81 489.90,135.72 490.30,136.29 490.70,136.42 491.10,136.08 491.50,135.29 491.90,134.15 492.30,132.81 492.70,131.45 493.10,130.28 493.50,129.46 493.90,129.13 494.30,129.35 494.70,130.11 495.10,131.30 495.50,132.77 495.90,134.32 496.30,135.72 496.70,136.77 497.10,137.32 497.50,137.28 497.90,136.64 498.30,135.49 498.70,133.98 499.10,132.33 499.50,130.77 499.90,129.51 500.30,128.75 500.70,128.58 501.10,129.04 501.50,130.06 501.90,131.50 502.30,133.15 502.70,134.79 503.10,136.18 503.50,137.12 503.90,137.49 504.30,137.24 504.70,136.40 505.10,135.11 505.50,133.55 505.90,131.94 506.30,130.50 506.70,129.45 507.10,128.91 507.50,128.95 507.90,129.55 508.30,130.63 508.70,132.01 509.10,133.50 509.50,134.88 509.90,135.96 510.30,136.61 510.70,136.74 511.10,136.35 511.50,135.53 511.90,134.39 512.30,133.11 512.70,131.87 513.10,130.86 513.50,130.19 513.90,129.94 514.30,130.13 514.70,130.71 515.10,131.57 515.50,132.57 515.90,133.57 516.30,134.43 516.70,135.02 517.10,135.30 517.50,135.24 517.90,134.87 518.30,134.29 518.70,133.59 519.10,132.88 519.50,132.28 519.90,131.84 520.30,131.63 520.70,131.64 521.10,131.84 521.50,132.17 521.90,132.56 522.30,132.94 522.70,133.24 523.10,133.43 523.50,133.49 523.90,133.44 524.30,133.32 524.70,133.17 525.10,133.05 525.50,133.02 525.90,133.13 526.30,133.25 526.70,133.30 527.10,133.27 527.50,133.12 527.90,132.86 528.30,132.53 528.70,132.19 529.10,131.90 529.50,131.75 529.90,131.77 530.30,132.00 530.70,132.42 531.10,133.00 531.50,133.65 531.90,134.27 532.30,134.75 532.70,134.99 533.10,134.93 533.50,134.55 533.90,133.88 534.30,133.00 534.70,132.03 535.10,131.11 535.50,130.40 535.90,130.00 536.30,130.01 536.70,130.45 537.10,131.28 537.50,132.38 537.90,133.62 538.30,134.80 538.70,135.74 539.10,136.30 539.50,136.36 539.90,135.91 540.30,134.98 540.70,133.70 541.10,132.25 541.50,130.83 541.90,129.65 542.30,128.91 542.70,128.71 543.10,129.09 543.50,130.03 543.90,131.38 544.30,132.96 544.70,134.54 545.10,135.89 545.50,136.80 545.90,137.13 546.30,136.84 546.70,135.94 547.10,134.58 547.50,132.93 547.90,131.25 548.30,129.77 548.70,128.71 549.10,128.22 549.50,128.38 549.90,129.16 550.30,130.44 550.70,132.04 551.10,133.73 551.50,135.25 551.90,136.39 552.30,136.99 552.70,136.96 553.10,136.31 553.50,135.15 553.90,133.65 554.30,132.03 554.70,130.53 555.10,129.35 555.50,128.67 555.90,128.57 556.30,129.04 556.70,130.01 557.10,131.32 557.50,132.78 557.90,134.16 558.30,135.27 558.70,135.96 559.10,136.15 559.50,135.82 559.90,135.04 560.30,133.95 560.70,132.71 561.10,131.51 561.50,130.52 561.90,129.86 562.30,129.63 562.70,129.81 563.10,130.37 563.50,131.20 563.90,132.15 564.30,133.08 564.70,133.86 565.10,134.38 565.50,134.59 565.90,134.48 566.30,134.10 566.70,133.53 567.10,132.88 567.50,132.24 567.90,131.72 568.30,131.38 568.70,131.24 569.10,131.31 569.50,131.53 569.90,131.84 570.30,132.17 570.70,132.46 571.10,132.66 571.50,132.74 571.90,132.72 572.30,132.62 572.70,132.49 573.10,132.42 573.50,132.52 573.90,132.66 574.30,132.78 574.70,132.82 575.10,132.76 575.50,132.57 575.90,132.28 576.30,131.91 576.70,131.54 577.10,131.25 577.50,131.09 577.90,131.13 578.30,131.39 578.70,131.86 579.10,132.48 579.50,133.18 579.90,133.83 580.30,134.34 580.70,134.59 581.10,134.53 581.50,134.13 581.90,133.44 582.30,132.52 582.70,131.52 583.10,130.58 583.50,129.84 583.90,129.45 584.30,129.47 584.70,129.93 585.10,130.79 585.50,131.93 585.90,133.20 586.30,134.41 586.70,135.38 587.10,135.94 587.50,136.01 587.90,135.55 588.30,134.61 588.70,133.31 589.10,131.84 589.50,130.41 589.90,129.22 590.30,128.47 590.70,128.28 591.10,128.68 591.50,129.63 591.90,131.00 592.30,132.60 592.70,134.20 593.10,135.56 593.50,136.48 593.90,136.82 594.30,136.52 594.70,135.63 595.10,134.26 595.50,132.61 595.90,130.93 596.30,129.45 596.70,128.40 597.10,127.92 597.50,128.09 597.90,128.87 598.30,130.16 598.70,131.76 599.10,133.45 599.50,134.97 599.90,136.11 600.30,136.70 600.70,136.67 601.10,136.03 601.50,134.89 601.90,133.40 602.30,131.80 602.70,130.32 603.10,129.16 603.50,128.50" fill="none" stroke="#00ee00" stroke-width="2.9" stroke-linejoin="round" stroke-linecap="round"/>
</g>
<line x1="54.5" y1="199.3" x2="54.5" y2="194.3" stroke="#8a8a8a" stroke-width="1"/>
<line x1="54.5" y1="3.8" x2="54.5" y2="8.8" stroke="#8a8a8a" stroke-width="1"/>
<line x1="111.7" y1="199.3" x2="111.7" y2="194.3" stroke="#8a8a8a" stroke-width="1"/>
<line x1="111.7" y1="3.8" x2="111.7" y2="8.8" stroke="#8a8a8a" stroke-width="1"/>
<line x1="168.9" y1="199.3" x2="168.9" y2="194.3" stroke="#8a8a8a" stroke-width="1"/>
<line x1="168.9" y1="3.8" x2="168.9" y2="8.8" stroke="#8a8a8a" stroke-width="1"/>
<line x1="226.1" y1="199.3" x2="226.1" y2="194.3" stroke="#8a8a8a" stroke-width="1"/>
<line x1="226.1" y1="3.8" x2="226.1" y2="8.8" stroke="#8a8a8a" stroke-width="1"/>
<line x1="283.3" y1="199.3" x2="283.3" y2="194.3" stroke="#8a8a8a" stroke-width="1"/>
<line x1="283.3" y1="3.8" x2="283.3" y2="8.8" stroke="#8a8a8a" stroke-width="1"/>
<line x1="340.5" y1="199.3" x2="340.5" y2="194.3" stroke="#8a8a8a" stroke-width="1"/>
<line x1="340.5" y1="3.8" x2="340.5" y2="8.8" stroke="#8a8a8a" stroke-width="1"/>
<line x1="397.7" y1="199.3" x2="397.7" y2="194.3" stroke="#8a8a8a" stroke-width="1"/>
<line x1="397.7" y1="3.8" x2="397.7" y2="8.8" stroke="#8a8a8a" stroke-width="1"/>
<line x1="454.9" y1="199.3" x2="454.9" y2="194.3" stroke="#8a8a8a" stroke-width="1"/>
<line x1="454.9" y1="3.8" x2="454.9" y2="8.8" stroke="#8a8a8a" stroke-width="1"/>
<line x1="512.1" y1="199.3" x2="512.1" y2="194.3" stroke="#8a8a8a" stroke-width="1"/>
<line x1="512.1" y1="3.8" x2="512.1" y2="8.8" stroke="#8a8a8a" stroke-width="1"/>
<line x1="569.3000000000001" y1="199.3" x2="569.3000000000001" y2="194.3" stroke="#8a8a8a" stroke-width="1"/>
<line x1="569.3000000000001" y1="3.8" x2="569.3000000000001" y2="8.8" stroke="#8a8a8a" stroke-width="1"/>
<line x1="626.5" y1="199.3" x2="626.5" y2="194.3" stroke="#8a8a8a" stroke-width="1"/>
<line x1="626.5" y1="3.8" x2="626.5" y2="8.8" stroke="#8a8a8a" stroke-width="1"/>
<line x1="54.5" y1="199.3" x2="59.5" y2="199.3" stroke="#8a8a8a" stroke-width="1"/>
<line x1="626.5" y1="199.3" x2="621.5" y2="199.3" stroke="#8a8a8a" stroke-width="1"/>
<line x1="54.5" y1="154.8000000000049" x2="59.5" y2="154.8000000000049" stroke="#8a8a8a" stroke-width="1"/>
<line x1="626.5" y1="154.8000000000049" x2="621.5" y2="154.8000000000049" stroke="#8a8a8a" stroke-width="1"/>
<line x1="54.5" y1="110.30000000000982" x2="59.5" y2="110.30000000000982" stroke="#8a8a8a" stroke-width="1"/>
<line x1="626.5" y1="110.30000000000982" x2="621.5" y2="110.30000000000982" stroke="#8a8a8a" stroke-width="1"/>
<line x1="54.5" y1="65.8000000000147" x2="59.5" y2="65.8000000000147" stroke="#8a8a8a" stroke-width="1"/>
<line x1="626.5" y1="65.8000000000147" x2="621.5" y2="65.8000000000147" stroke="#8a8a8a" stroke-width="1"/>
<line x1="54.5" y1="21.29999999999984" x2="59.5" y2="21.29999999999984" stroke="#8a8a8a" stroke-width="1"/>
<line x1="626.5" y1="21.29999999999984" x2="621.5" y2="21.29999999999984" stroke="#8a8a8a" stroke-width="1"/>
<rect x="54.5" y="3.8" width="572.0" height="195.5" fill="none" stroke="#8a8a8a" stroke-width="1"/>
<g clip-path="url(#cb)">
<circle cx="58.6" cy="267.3" r="2.1"/>
<circle cx="54.7" cy="279.2" r="2.1"/>
<circle cx="56.7" cy="280.0" r="2.1"/>
<circle cx="61.1" cy="278.9" r="2.1"/>
<circle cx="65.1" cy="275.7" r="2.1"/>
<circle cx="67.1" cy="278.0" r="2.1"/>
<circle cx="71.6" cy="279.2" r="2.1"/>
<circle cx="69.7" cy="282.9" r="2.1"/>
<circle cx="63.0" cy="284.6" r="2.1"/>
<circle cx="73.7" cy="288.7" r="2.1"/>
<circle cx="75.9" cy="286.3" r="2.1"/>
<circle cx="78.3" cy="283.5" r="2.1"/>
<circle cx="80.7" cy="285.5" r="2.1"/>
<circle cx="82.4" cy="284.8" r="2.1"/>
<circle cx="84.4" cy="283.9" r="2.1"/>
<circle cx="86.3" cy="289.8" r="2.1"/>
<circle cx="88.0" cy="286.9" r="2.1"/>
<circle cx="90.2" cy="290.6" r="2.1"/>
<circle cx="92.3" cy="283.2" r="2.1"/>
<circle cx="94.5" cy="289.1" r="2.1"/>
<circle cx="97.9" cy="284.3" r="2.1"/>
<circle cx="99.7" cy="283.9" r="2.1"/>
<circle cx="74.7" cy="301.4" r="2.1"/>
<circle cx="102.2" cy="284.6" r="2.1"/>
<circle cx="104.6" cy="284.6" r="2.1"/>
<circle cx="107.2" cy="284.6" r="2.1"/>
<circle cx="109.1" cy="285.1" r="2.1"/>
<circle cx="111.0" cy="284.6" r="2.1"/>
<circle cx="112.3" cy="290.0" r="2.1"/>
<circle cx="115.2" cy="297.3" r="2.1"/>
<circle cx="116.8" cy="317.2" r="2.1"/>
<circle cx="119.4" cy="347.1" r="2.1"/>
<circle cx="120.4" cy="381.1" r="2.1"/>
<circle cx="122.3" cy="404.0" r="2.1"/>
<circle cx="125.2" cy="408.3" r="2.1"/>
<circle cx="129.1" cy="409.2" r="2.1"/>
<circle cx="131.5" cy="409.8" r="2.1"/>
<circle cx="135.0" cy="405.0" r="2.1"/>
<circle cx="133.0" cy="413.1" r="2.1"/>
<circle cx="138.8" cy="412.1" r="2.1"/>
<circle cx="141.2" cy="413.1" r="2.1"/>
<circle cx="145.0" cy="418.0" r="2.1"/>
<circle cx="147.6" cy="417.0" r="2.1"/>
<circle cx="151.5" cy="413.7" r="2.1"/>
<circle cx="155.7" cy="412.1" r="2.1"/>
<circle cx="153.4" cy="417.0" r="2.1"/>
<circle cx="157.7" cy="423.8" r="2.1"/>
<circle cx="159.2" cy="422.2" r="2.1"/>
<circle cx="162.1" cy="418.3" r="2.1"/>
<circle cx="164.1" cy="421.5" r="2.1"/>
<circle cx="166.0" cy="417.0" r="2.1"/>
<circle cx="169.0" cy="419.9" r="2.1"/>
<circle cx="172.2" cy="417.0" r="2.1"/>
<circle cx="174.8" cy="418.0" r="2.1"/>
<circle cx="177.9" cy="416.6" r="2.1"/>
<circle cx="181.7" cy="414.4" r="2.1"/>
<circle cx="184.1" cy="419.5" r="2.1"/>
<circle cx="186.0" cy="415.7" r="2.1"/>
<circle cx="188.0" cy="415.3" r="2.1"/>
<circle cx="190.3" cy="420.5" r="2.1"/>
<circle cx="192.1" cy="414.4" r="2.1"/>
<circle cx="194.4" cy="415.7" r="2.1"/>
<circle cx="196.4" cy="419.2" r="2.1"/>
<circle cx="198.3" cy="417.3" r="2.1"/>
<circle cx="202.2" cy="414.4" r="2.1"/>
<circle cx="206.4" cy="421.5" r="2.1"/>
<circle cx="209.0" cy="415.0" r="2.1"/>
<circle cx="212.0" cy="413.1" r="2.1"/>
<circle cx="216.5" cy="412.2" r="2.1"/>
<circle cx="218.8" cy="410.5" r="2.1"/>
<circle cx="221.0" cy="416.0" r="2.1"/>
<circle cx="222.7" cy="407.0" r="2.1"/>
<circle cx="224.9" cy="410.9" r="2.1"/>
<circle cx="228.8" cy="407.5" r="2.1"/>
<circle cx="230.5" cy="404.6" r="2.1"/>
<circle cx="233.1" cy="414.0" r="2.1"/>
<circle cx="234.7" cy="385.3" r="2.1"/>
<circle cx="236.7" cy="357.6" r="2.1"/>
<circle cx="238.9" cy="334.1" r="2.1"/>
<circle cx="241.0" cy="306.9" r="2.1"/>
<circle cx="243.0" cy="286.9" r="2.1"/>
<circle cx="246.8" cy="290.3" r="2.1"/>
<circle cx="249.0" cy="285.4" r="2.1"/>
<circle cx="251.3" cy="288.7" r="2.1"/>
<circle cx="253.6" cy="284.2" r="2.1"/>
<circle cx="255.5" cy="290.3" r="2.1"/>
<circle cx="257.7" cy="289.5" r="2.1"/>
<circle cx="259.6" cy="283.0" r="2.1"/>
<circle cx="261.6" cy="281.5" r="2.1"/>
<circle cx="265.2" cy="290.0" r="2.1"/>
<circle cx="267.6" cy="283.4" r="2.1"/>
<circle cx="269.8" cy="280.9" r="2.1"/>
<circle cx="272.5" cy="281.2" r="2.1"/>
<circle cx="275.5" cy="285.0" r="2.1"/>
<circle cx="279.7" cy="293.0" r="2.1"/>
<circle cx="281.6" cy="280.0" r="2.1"/>
<circle cx="284.9" cy="283.0" r="2.1"/>
<circle cx="287.9" cy="288.7" r="2.1"/>
<circle cx="289.9" cy="288.4" r="2.1"/>
<circle cx="292.1" cy="283.9" r="2.1"/>
<circle cx="295.2" cy="283.4" r="2.1"/>
<circle cx="297.9" cy="291.0" r="2.1"/>
<circle cx="300.0" cy="284.5" r="2.1"/>
<polyline points="54.50,287.20 60.00,287.60 67.30,288.20 75.90,287.80 93.00,287.20 100.00,287.30 106.00,287.00 111.00,286.90 112.60,288.50 113.80,293.80 115.60,306.00 117.30,323.30 118.70,345.70 119.90,365.00 120.60,385.00 121.40,398.00 122.30,404.40 123.50,409.00 125.20,412.10 128.00,413.80 131.00,415.00 136.00,416.50 142.70,417.60 150.00,418.50 158.30,419.00 175.00,418.90 188.00,419.00 198.00,419.00 206.10,418.60 212.00,417.30 217.80,415.50 224.00,413.30 230.80,410.50 232.30,408.00 233.30,403.00 234.00,395.00 235.60,375.50 237.80,349.60 239.90,321.60 240.90,306.90 241.80,296.00 243.00,289.20 245.30,287.80 250.00,287.50 257.40,286.90 265.00,286.00 272.50,285.40 280.00,285.80 287.60,286.50 295.00,287.20 301.40,287.70" fill="none" stroke="#00ee00" stroke-width="2.9" stroke-linejoin="round" stroke-linecap="round"/>
</g>
<line x1="95.60000000000001" y1="438.2" x2="95.60000000000001" y2="435.7" stroke="#8a8a8a" stroke-width="1"/>
<line x1="95.60000000000001" y1="248.4" x2="95.60000000000001" y2="250.9" stroke="#8a8a8a" stroke-width="1"/>
<line x1="136.70000000000002" y1="438.2" x2="136.70000000000002" y2="435.7" stroke="#8a8a8a" stroke-width="1"/>
<line x1="136.70000000000002" y1="248.4" x2="136.70000000000002" y2="250.9" stroke="#8a8a8a" stroke-width="1"/>
<line x1="177.8" y1="438.2" x2="177.8" y2="435.7" stroke="#8a8a8a" stroke-width="1"/>
<line x1="177.8" y1="248.4" x2="177.8" y2="250.9" stroke="#8a8a8a" stroke-width="1"/>
<line x1="218.9" y1="438.2" x2="218.9" y2="435.7" stroke="#8a8a8a" stroke-width="1"/>
<line x1="218.9" y1="248.4" x2="218.9" y2="250.9" stroke="#8a8a8a" stroke-width="1"/>
<line x1="260.0" y1="438.2" x2="260.0" y2="435.7" stroke="#8a8a8a" stroke-width="1"/>
<line x1="260.0" y1="248.4" x2="260.0" y2="250.9" stroke="#8a8a8a" stroke-width="1"/>
<line x1="54.5" y1="269.0" x2="57.0" y2="269.0" stroke="#8a8a8a" stroke-width="1"/>
<line x1="301.4" y1="269.0" x2="298.9" y2="269.0" stroke="#8a8a8a" stroke-width="1"/>
<line x1="54.5" y1="295.0" x2="57.0" y2="295.0" stroke="#8a8a8a" stroke-width="1"/>
<line x1="301.4" y1="295.0" x2="298.9" y2="295.0" stroke="#8a8a8a" stroke-width="1"/>
<line x1="54.5" y1="321.0" x2="57.0" y2="321.0" stroke="#8a8a8a" stroke-width="1"/>
<line x1="301.4" y1="321.0" x2="298.9" y2="321.0" stroke="#8a8a8a" stroke-width="1"/>
<line x1="54.5" y1="347.0" x2="57.0" y2="347.0" stroke="#8a8a8a" stroke-width="1"/>
<line x1="301.4" y1="347.0" x2="298.9" y2="347.0" stroke="#8a8a8a" stroke-width="1"/>
<line x1="54.5" y1="373.0" x2="57.0" y2="373.0" stroke="#8a8a8a" stroke-width="1"/>
<line x1="301.4" y1="373.0" x2="298.9" y2="373.0" stroke="#8a8a8a" stroke-width="1"/>
<line x1="54.5" y1="399.0" x2="57.0" y2="399.0" stroke="#8a8a8a" stroke-width="1"/>
<line x1="301.4" y1="399.0" x2="298.9" y2="399.0" stroke="#8a8a8a" stroke-width="1"/>
<line x1="54.5" y1="425.0" x2="57.0" y2="425.0" stroke="#8a8a8a" stroke-width="1"/>
<line x1="301.4" y1="425.0" x2="298.9" y2="425.0" stroke="#8a8a8a" stroke-width="1"/>
<rect x="54.5" y="248.4" width="246.89999999999998" height="189.79999999999998" fill="none" stroke="#8a8a8a" stroke-width="1"/>
<g clip-path="url(#cc)">
<circle cx="379.3" cy="275.1" r="2.1"/>
<circle cx="386.0" cy="284.2" r="2.1"/>
<circle cx="388.4" cy="283.3" r="2.1"/>
<circle cx="391.0" cy="282.5" r="2.1"/>
<circle cx="392.9" cy="291.3" r="2.1"/>
<circle cx="395.5" cy="284.2" r="2.1"/>
<circle cx="398.5" cy="282.0" r="2.1"/>
<circle cx="400.0" cy="282.9" r="2.1"/>
<circle cx="403.3" cy="279.6" r="2.1"/>
<circle cx="406.3" cy="278.1" r="2.1"/>
<circle cx="410.4" cy="283.8" r="2.1"/>
<circle cx="408.5" cy="295.5" r="2.1"/>
<circle cx="413.0" cy="289.0" r="2.1"/>
<circle cx="415.3" cy="293.2" r="2.1"/>
<circle cx="419.5" cy="297.1" r="2.1"/>
<circle cx="417.2" cy="268.0" r="2.1"/>
<circle cx="422.1" cy="270.8" r="2.1"/>
<circle cx="424.0" cy="268.6" r="2.1"/>
<circle cx="428.6" cy="271.6" r="2.1"/>
<circle cx="430.5" cy="267.3" r="2.1"/>
<circle cx="435.0" cy="269.0" r="2.1"/>
<circle cx="433.1" cy="275.1" r="2.1"/>
<circle cx="439.6" cy="273.2" r="2.1"/>
<circle cx="426.0" cy="279.0" r="2.1"/>
<circle cx="437.0" cy="278.3" r="2.1"/>
<circle cx="444.4" cy="286.1" r="2.1"/>
<circle cx="383.8" cy="312.0" r="2.1"/>
<circle cx="445.3" cy="343.0" r="2.1"/>
<circle cx="448.0" cy="359.5" r="2.1"/>
<circle cx="449.7" cy="400.0" r="2.1"/>
<circle cx="453.1" cy="397.6" r="2.1"/>
<circle cx="455.0" cy="409.0" r="2.1"/>
<circle cx="457.3" cy="405.1" r="2.1"/>
<circle cx="461.7" cy="410.4" r="2.1"/>
<circle cx="464.0" cy="402.9" r="2.1"/>
<circle cx="466.3" cy="399.0" r="2.1"/>
<circle cx="468.5" cy="403.9" r="2.1"/>
<circle cx="470.9" cy="413.4" r="2.1"/>
<circle cx="473.3" cy="410.9" r="2.1"/>
<circle cx="475.2" cy="409.0" r="2.1"/>
<circle cx="459.3" cy="425.7" r="2.1"/>
<circle cx="477.4" cy="419.0" r="2.1"/>
<circle cx="479.7" cy="420.0" r="2.1"/>
<circle cx="481.5" cy="395.2" r="2.1"/>
<circle cx="484.1" cy="394.5" r="2.1"/>
<circle cx="486.0" cy="376.8" r="2.1"/>
<circle cx="488.4" cy="393.0" r="2.1"/>
<circle cx="495.1" cy="383.3" r="2.1"/>
<circle cx="490.7" cy="400.0" r="2.1"/>
<circle cx="493.1" cy="400.7" r="2.1"/>
<circle cx="497.1" cy="413.3" r="2.1"/>
<circle cx="499.4" cy="397.7" r="2.1"/>
<circle cx="501.9" cy="400.2" r="2.1"/>
<circle cx="504.0" cy="405.9" r="2.1"/>
<circle cx="506.1" cy="401.4" r="2.1"/>
<circle cx="508.4" cy="408.2" r="2.1"/>
<circle cx="510.5" cy="404.2" r="2.1"/>
<circle cx="513.2" cy="404.0" r="2.1"/>
<circle cx="515.0" cy="410.7" r="2.1"/>
<circle cx="517.3" cy="415.0" r="2.1"/>
<circle cx="519.5" cy="404.6" r="2.1"/>
<circle cx="521.6" cy="409.4" r="2.1"/>
<circle cx="524.2" cy="402.8" r="2.1"/>
<circle cx="526.0" cy="411.4" r="2.1"/>
<circle cx="528.2" cy="392.7" r="2.1"/>
<circle cx="530.6" cy="403.0" r="2.1"/>
<circle cx="532.6" cy="397.5" r="2.1"/>
<circle cx="537.0" cy="390.3" r="2.1"/>
<circle cx="539.5" cy="402.3" r="2.1"/>
<circle cx="541.7" cy="393.9" r="2.1"/>
<circle cx="544.2" cy="396.2" r="2.1"/>
<circle cx="546.1" cy="400.6" r="2.1"/>
<circle cx="548.4" cy="391.2" r="2.1"/>
<circle cx="550.3" cy="397.1" r="2.1"/>
<circle cx="552.6" cy="397.1" r="2.1"/>
<circle cx="559.3" cy="393.6" r="2.1"/>
<circle cx="562.7" cy="375.7" r="2.1"/>
<circle cx="554.9" cy="416.4" r="2.1"/>
<circle cx="557.4" cy="420.2" r="2.1"/>
<circle cx="563.6" cy="333.8" r="2.1"/>
<circle cx="568.2" cy="292.9" r="2.1"/>
<circle cx="572.0" cy="299.0" r="2.1"/>
<circle cx="574.9" cy="297.7" r="2.1"/>
<circle cx="577.0" cy="302.6" r="2.1"/>
<circle cx="584.0" cy="299.7" r="2.1"/>
<circle cx="587.9" cy="285.7" r="2.1"/>
<circle cx="565.6" cy="310.4" r="2.1"/>
<circle cx="570.5" cy="313.2" r="2.1"/>
<circle cx="579.6" cy="309.1" r="2.1"/>
<circle cx="581.8" cy="308.4" r="2.1"/>
<circle cx="586.0" cy="309.7" r="2.1"/>
<circle cx="592.8" cy="312.3" r="2.1"/>
<circle cx="595.1" cy="309.1" r="2.1"/>
<circle cx="599.3" cy="302.6" r="2.1"/>
<circle cx="603.8" cy="303.2" r="2.1"/>
<circle cx="605.8" cy="310.4" r="2.1"/>
<circle cx="601.6" cy="316.2" r="2.1"/>
<circle cx="590.5" cy="318.4" r="2.1"/>
<circle cx="597.0" cy="321.4" r="2.1"/>
<circle cx="608.1" cy="317.9" r="2.1"/>
<circle cx="612.5" cy="320.1" r="2.1"/>
<circle cx="614.8" cy="319.5" r="2.1"/>
<circle cx="619.4" cy="318.4" r="2.1"/>
<circle cx="621.6" cy="313.2" r="2.1"/>
<circle cx="626.2" cy="298.5" r="2.1"/>
<circle cx="609.9" cy="324.0" r="2.1"/>
<circle cx="616.8" cy="323.1" r="2.1"/>
<circle cx="623.6" cy="334.8" r="2.1"/>
<polyline points="379.50,275.10 384.50,275.10 391.00,277.00 397.40,279.60 403.90,281.60 411.70,282.20 419.50,280.30 426.00,278.30 432.50,277.70 437.60,279.00 440.50,281.00 441.80,284.00 442.80,289.00 444.10,301.70 445.90,325.90 447.50,351.90 448.50,368.00 449.30,382.00 450.20,394.00 451.30,401.00 453.00,405.20 456.00,407.00 459.40,407.50 462.00,407.20 465.90,406.20 471.40,404.00 476.30,400.80 482.00,398.20 486.00,397.50 490.00,397.90 494.00,399.30 500.00,401.80 505.00,405.00 510.00,406.90 515.70,407.60 519.00,406.50 522.80,404.30 527.00,401.50 531.90,399.10 535.50,397.50 539.60,397.10 543.50,397.80 547.40,399.10 552.00,401.80 556.50,404.60 558.00,401.00 559.30,395.50 561.00,375.70 562.30,358.90 563.20,346.00 564.30,334.00 565.40,320.00 566.20,313.50 567.50,308.40 573.30,307.10 582.40,304.50 591.50,303.20 599.30,305.20 607.10,309.70 614.80,313.60 622.60,315.30 626.50,315.60" fill="none" stroke="#00ee00" stroke-width="2.9" stroke-linejoin="round" stroke-linecap="round"/>
</g>
<line x1="406.2" y1="438.1" x2="406.2" y2="435.6" stroke="#8a8a8a" stroke-width="1"/>
<line x1="406.2" y1="248.4" x2="406.2" y2="250.9" stroke="#8a8a8a" stroke-width="1"/>
<line x1="451.2299999999999" y1="438.1" x2="451.2299999999999" y2="435.6" stroke="#8a8a8a" stroke-width="1"/>
<line x1="451.2299999999999" y1="248.4" x2="451.2299999999999" y2="250.9" stroke="#8a8a8a" stroke-width="1"/>
<line x1="496.25999999999993" y1="438.1" x2="496.25999999999993" y2="435.6" stroke="#8a8a8a" stroke-width="1"/>
<line x1="496.25999999999993" y1="248.4" x2="496.25999999999993" y2="250.9" stroke="#8a8a8a" stroke-width="1"/>
<line x1="541.29" y1="438.1" x2="541.29" y2="435.6" stroke="#8a8a8a" stroke-width="1"/>
<line x1="541.29" y1="248.4" x2="541.29" y2="250.9" stroke="#8a8a8a" stroke-width="1"/>
<line x1="586.3199999999999" y1="438.1" x2="586.3199999999999" y2="435.6" stroke="#8a8a8a" stroke-width="1"/>
<line x1="586.3199999999999" y1="248.4" x2="586.3199999999999" y2="250.9" stroke="#8a8a8a" stroke-width="1"/>
<line x1="379.5" y1="426.212" x2="382.0" y2="426.212" stroke="#8a8a8a" stroke-width="1"/>
<line x1="626.4" y1="426.212" x2="623.9" y2="426.212" stroke="#8a8a8a" stroke-width="1"/>
<line x1="379.5" y1="402.5" x2="382.0" y2="402.5" stroke="#8a8a8a" stroke-width="1"/>
<line x1="626.4" y1="402.5" x2="623.9" y2="402.5" stroke="#8a8a8a" stroke-width="1"/>
<line x1="379.5" y1="378.788" x2="382.0" y2="378.788" stroke="#8a8a8a" stroke-width="1"/>
<line x1="626.4" y1="378.788" x2="623.9" y2="378.788" stroke="#8a8a8a" stroke-width="1"/>
<line x1="379.5" y1="355.076" x2="382.0" y2="355.076" stroke="#8a8a8a" stroke-width="1"/>
<line x1="626.4" y1="355.076" x2="623.9" y2="355.076" stroke="#8a8a8a" stroke-width="1"/>
<line x1="379.5" y1="331.36400000000003" x2="382.0" y2="331.36400000000003" stroke="#8a8a8a" stroke-width="1"/>
<line x1="626.4" y1="331.36400000000003" x2="623.9" y2="331.36400000000003" stroke="#8a8a8a" stroke-width="1"/>
<line x1="379.5" y1="307.652" x2="382.0" y2="307.652" stroke="#8a8a8a" stroke-width="1"/>
<line x1="626.4" y1="307.652" x2="623.9" y2="307.652" stroke="#8a8a8a" stroke-width="1"/>
<line x1="379.5" y1="283.94" x2="382.0" y2="283.94" stroke="#8a8a8a" stroke-width="1"/>
<line x1="626.4" y1="283.94" x2="623.9" y2="283.94" stroke="#8a8a8a" stroke-width="1"/>
<line x1="379.5" y1="260.228" x2="382.0" y2="260.228" stroke="#8a8a8a" stroke-width="1"/>
<line x1="626.4" y1="260.228" x2="623.9" y2="260.228" stroke="#8a8a8a" stroke-width="1"/>
<rect x="379.5" y="248.4" width="246.89999999999998" height="189.70000000000002" fill="none" stroke="#8a8a8a" stroke-width="1"/>
<text x="51.6" y="203.60000000000002" text-anchor="end" font-size="10.5" font-weight="normal" >0.9995</text>
<text x="51.6" y="159.1000000000049" text-anchor="end" font-size="10.5" font-weight="normal" >1</text>
<text x="51.6" y="114.60000000000981" text-anchor="end" font-size="10.5" font-weight="normal" >1.0005</text>
<text x="51.6" y="70.1000000000147" text-anchor="end" font-size="10.5" font-weight="normal" >1.001</text>
<text x="51.6" y="25.59999999999984" text-anchor="end" font-size="10.5" font-weight="normal" >1.0015</text>
<text x="54.5" y="212.9" text-anchor="middle" font-size="10.5" font-weight="normal" >0</text>
<text x="111.7" y="212.9" text-anchor="middle" font-size="10.5" font-weight="normal" >0.1</text>
<text x="168.9" y="212.9" text-anchor="middle" font-size="10.5" font-weight="normal" >0.2</text>
<text x="226.1" y="212.9" text-anchor="middle" font-size="10.5" font-weight="normal" >0.3</text>
<text x="283.3" y="212.9" text-anchor="middle" font-size="10.5" font-weight="normal" >0.4</text>
<text x="340.5" y="212.9" text-anchor="middle" font-size="10.5" font-weight="normal" >0.5</text>
<text x="397.7" y="212.9" text-anchor="middle" font-size="10.5" font-weight="normal" >0.6</text>
<text x="454.9" y="212.9" text-anchor="middle" font-size="10.5" font-weight="normal" >0.7</text>
<text x="512.1" y="212.9" text-anchor="middle" font-size="10.5" font-weight="normal" >0.8</text>
<text x="569.3000000000001" y="212.9" text-anchor="middle" font-size="10.5" font-weight="normal" >0.9</text>
<text x="626.5" y="212.9" text-anchor="middle" font-size="10.5" font-weight="normal" >1</text>
<text x="340.3" y="223.9" text-anchor="middle" font-size="10.5" font-weight="normal" >Orbital Phase</text>
<text x="51.6" y="273.3" text-anchor="end" font-size="10.5" font-weight="normal" >1000</text>
<text x="51.6" y="299.3" text-anchor="end" font-size="10.5" font-weight="normal" >0</text>
<text x="51.6" y="325.3" text-anchor="end" font-size="10.5" font-weight="normal" >−1000</text>
<text x="51.6" y="351.3" text-anchor="end" font-size="10.5" font-weight="normal" >−2000</text>
<text x="51.6" y="377.3" text-anchor="end" font-size="10.5" font-weight="normal" >−3000</text>
<text x="51.6" y="403.3" text-anchor="end" font-size="10.5" font-weight="normal" >−4000</text>
<text x="51.6" y="429.3" text-anchor="end" font-size="10.5" font-weight="normal" >−5000</text>
<text x="92.2" y="451.6" text-anchor="middle" font-size="10.5" font-weight="normal" >−0.02</text>
<text x="133.3" y="451.6" text-anchor="middle" font-size="10.5" font-weight="normal" >−0.01</text>
<text x="177.8" y="451.6" text-anchor="middle" font-size="10.5" font-weight="normal" >0</text>
<text x="218.9" y="451.6" text-anchor="middle" font-size="10.5" font-weight="normal" >0.01</text>
<text x="260.0" y="451.6" text-anchor="middle" font-size="10.5" font-weight="normal" >0.02</text>
<text x="178" y="462.5" text-anchor="middle" font-size="10.5" font-weight="normal" >Orbital Phase</text>
<text x="376.4" y="430.512" text-anchor="end" font-size="10.5" font-weight="normal" >−200</text>
<text x="376.4" y="406.8" text-anchor="end" font-size="10.5" font-weight="normal" >0</text>
<text x="376.4" y="383.088" text-anchor="end" font-size="10.5" font-weight="normal" >200</text>
<text x="376.4" y="359.37600000000003" text-anchor="end" font-size="10.5" font-weight="normal" >400</text>
<text x="376.4" y="335.66400000000004" text-anchor="end" font-size="10.5" font-weight="normal" >600</text>
<text x="376.4" y="311.952" text-anchor="end" font-size="10.5" font-weight="normal" >800</text>
<text x="376.4" y="288.24" text-anchor="end" font-size="10.5" font-weight="normal" >1000</text>
<text x="376.4" y="264.528" text-anchor="end" font-size="10.5" font-weight="normal" >1200</text>
<text x="406.2" y="451.6" text-anchor="middle" font-size="10.5" font-weight="normal" >0.17</text>
<text x="451.2299999999999" y="451.6" text-anchor="middle" font-size="10.5" font-weight="normal" >0.18</text>
<text x="496.25999999999993" y="451.6" text-anchor="middle" font-size="10.5" font-weight="normal" >0.19</text>
<text x="541.29" y="451.6" text-anchor="middle" font-size="10.5" font-weight="normal" >0.2</text>
<text x="586.3199999999999" y="451.6" text-anchor="middle" font-size="10.5" font-weight="normal" >0.21</text>
<text x="502.5" y="462.5" text-anchor="middle" font-size="10.5" font-weight="normal" >Orbital Phase</text>
<text x="623" y="15.0" text-anchor="end" font-size="12" font-weight="bold" >A</text>
<text x="298" y="260.5" text-anchor="end" font-size="12" font-weight="bold" >B</text>
<text x="622.6" y="260.5" text-anchor="end" font-size="12" font-weight="bold" >C</text>
<text transform="translate(8.2,102.5) rotate(-90)" text-anchor="middle" font-size="10.5">F(t)/F<tspan font-size="8" dy="3.3">*</tspan></text>
<text transform="translate(11.2,343) rotate(-90)" text-anchor="middle" font-size="10.5">F(t)/F<tspan font-size="8" dy="3.3">*</tspan><tspan dy="-3.3">−1 [ppm]</tspan></text>
<text transform="translate(342.0,343) rotate(-90)" text-anchor="middle" font-size="10.5">F(t)/F<tspan font-size="8" dy="3.3">*</tspan><tspan dy="-3.3">−1 [ppm]</tspan></text></svg>
</body></html>
